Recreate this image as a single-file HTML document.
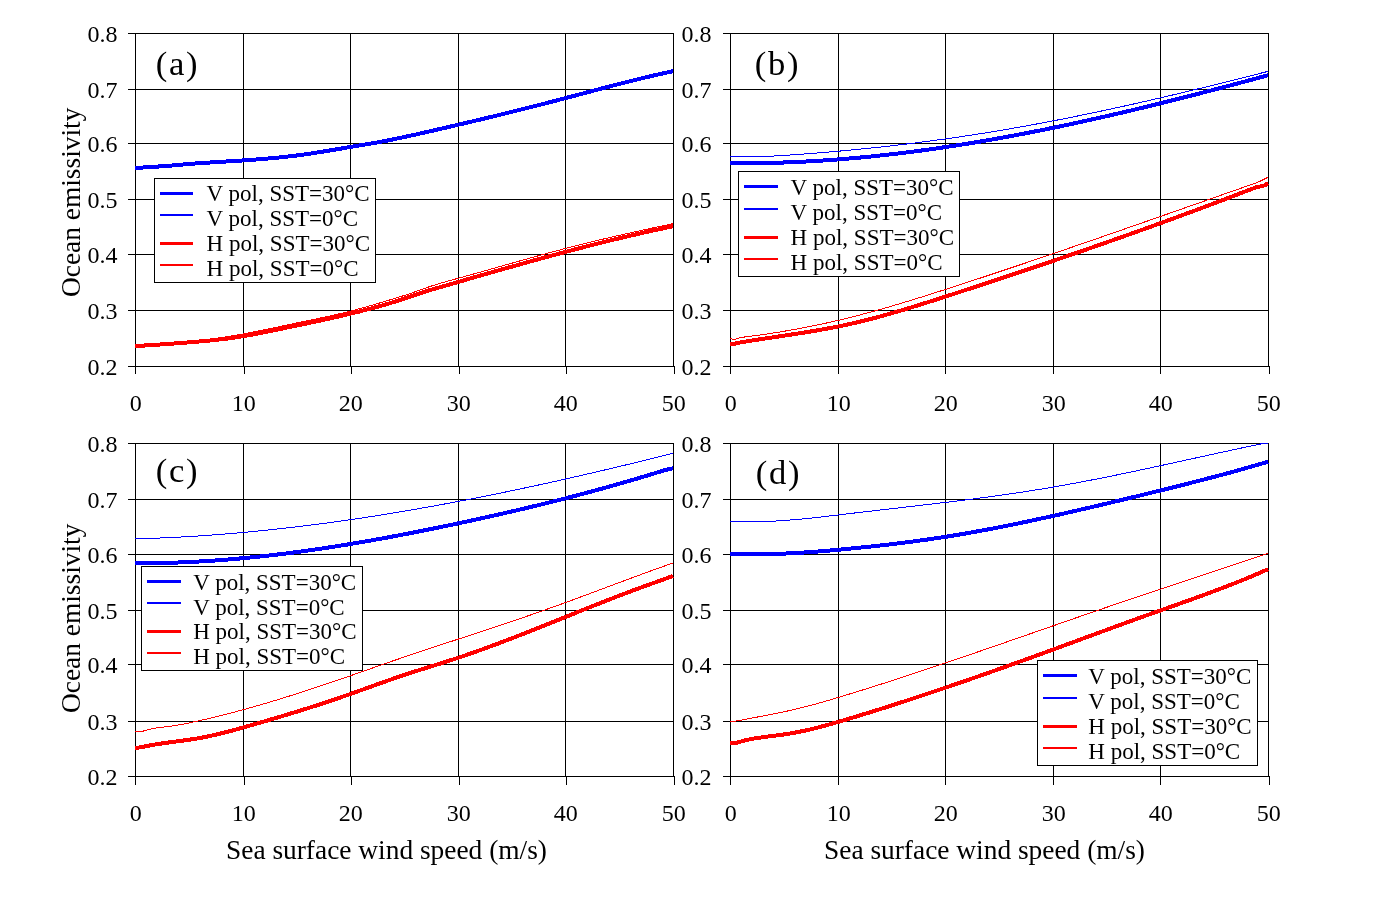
<!DOCTYPE html><html><head><meta charset="utf-8"><style>html,body{margin:0;padding:0;background:#fff;width:1377px;height:921px;overflow:hidden}svg{display:block;will-change:transform}text{font-family:"Liberation Serif",serif;fill:#000}</style></head><body>
<svg width="1377" height="921" viewBox="0 0 1377 921">
<rect x="0" y="0" width="1377" height="921" fill="#fff"/>
<path d="M135 33.5H674M128 33.5H135M135 89.5H674M128 89.5H135M135 143.5H674M128 143.5H135M135 199.5H674M128 199.5H135M135 254.5H674M128 254.5H135M135 310.5H674M128 310.5H135M135 366.5H674M128 366.5H135M135.5 33V367M135.5 366V374M243.5 33V367M244.5 366V374M350.5 33V367M351.5 366V374M458.5 33V367M459.5 366V374M565.5 33V367M566.5 366V374M673.5 33V367M674.5 366V374" stroke="#000" stroke-width="1" fill="none" shape-rendering="crispEdges"/>
<polyline points="135.0,166.32 137.0,166.29 139.0,166.26 141.0,166.22 143.0,166.19 145.0,166.15 147.0,166.11 149.0,166.06 151.0,166.01 153.0,165.96 155.0,165.91 157.0,165.85 159.0,165.79 161.0,165.73 163.0,165.67 165.0,165.60 167.0,165.53 169.0,165.46 171.0,165.39 173.0,165.31 175.0,165.23 177.0,165.14 179.0,165.06 181.0,164.97 183.0,164.87 185.0,164.78 187.0,164.68 189.0,164.58 191.0,164.48 193.0,164.37 195.0,164.26 197.0,164.15 199.0,164.04 201.0,163.92 203.0,163.80 205.0,163.67 207.0,163.55 209.0,163.42 211.0,163.29 213.0,163.15 215.0,163.01 217.0,162.87 219.0,162.73 221.0,162.58 223.0,162.43 225.0,162.28 227.0,162.13 229.0,161.97 231.0,161.81 233.0,161.64 235.0,161.47 237.0,161.30 239.0,161.13 241.0,160.95 243.0,160.78 245.0,160.59 247.0,160.41 249.0,160.22 251.0,160.03 253.0,159.83 255.0,159.64 257.0,159.44 259.0,159.23 261.0,159.03 263.0,158.82 265.0,158.61 267.0,158.39 269.0,158.17 271.0,157.95 273.0,157.73 275.0,157.50 277.0,157.27 279.0,157.03 281.0,156.80 283.0,156.56 285.0,156.31 287.0,156.07 289.0,155.82 291.0,155.57 293.0,155.31 295.0,155.05 297.0,154.79 299.0,154.53 301.0,154.26 303.0,153.99 305.0,153.71 307.0,153.44 309.0,153.15 311.0,152.87 313.0,152.58 315.0,152.29 317.0,152.00 319.0,151.70 321.0,151.40 323.0,151.10 325.0,150.80 327.0,150.49 329.0,150.17 331.0,149.86 333.0,149.54 335.0,149.22 337.0,148.89 339.0,148.56 341.0,148.23 343.0,147.90 345.0,147.56 347.0,147.22 349.0,146.88 351.0,146.54 353.0,146.19 355.0,145.84 357.0,145.48 359.0,145.12 361.0,144.77 363.0,144.40 365.0,144.04 367.0,143.67 369.0,143.30 371.0,142.93 373.0,142.55 375.0,142.17 377.0,141.79 379.0,141.41 381.0,141.02 383.0,140.63 385.0,140.24 387.0,139.84 389.0,139.45 391.0,139.05 393.0,138.65 395.0,138.24 397.0,137.84 399.0,137.43 401.0,137.02 403.0,136.60 405.0,136.19 407.0,135.77 409.0,135.35 411.0,134.93 413.0,134.50 415.0,134.07 417.0,133.65 419.0,133.21 421.0,132.78 423.0,132.34 425.0,131.91 427.0,131.47 429.0,131.03 431.0,130.58 433.0,130.14 435.0,129.69 437.0,129.24 439.0,128.79 441.0,128.33 443.0,127.88 445.0,127.42 447.0,126.96 449.0,126.50 451.0,126.03 453.0,125.57 455.0,125.10 457.0,124.63 459.0,124.16 461.0,123.69 463.0,123.22 465.0,122.74 467.0,122.27 469.0,121.79 471.0,121.31 473.0,120.83 475.0,120.35 477.0,119.86 479.0,119.38 481.0,118.89 483.0,118.40 485.0,117.92 487.0,117.43 489.0,116.93 491.0,116.44 493.0,115.95 495.0,115.45 497.0,114.96 499.0,114.46 501.0,113.96 503.0,113.46 505.0,112.96 507.0,112.46 509.0,111.96 511.0,111.46 513.0,110.95 515.0,110.45 517.0,109.95 519.0,109.44 521.0,108.93 523.0,108.43 525.0,107.92 527.0,107.41 529.0,106.90 531.0,106.39 533.0,105.88 535.0,105.37 537.0,104.86 539.0,104.35 541.0,103.84 543.0,103.33 545.0,102.81 547.0,102.30 549.0,101.79 551.0,101.28 553.0,100.76 555.0,100.25 557.0,99.74 559.0,99.22 561.0,98.71 563.0,98.20 565.0,97.68 567.0,97.17 569.0,96.65 571.0,96.14 573.0,95.63 575.0,95.11 577.0,94.60 579.0,94.09 581.0,93.58 583.0,93.06 585.0,92.55 587.0,92.04 589.0,91.53 591.0,91.02 593.0,90.51 595.0,90.00 597.0,89.49 599.0,88.98 601.0,88.47 603.0,87.96 605.0,87.46 607.0,86.95 609.0,86.44 611.0,85.94 613.0,85.44 615.0,84.93 617.0,84.43 619.0,83.93 621.0,83.43 623.0,82.93 625.0,82.43 627.0,81.93 629.0,81.43 631.0,80.94 633.0,80.44 635.0,79.95 637.0,79.46 639.0,78.96 641.0,78.47 643.0,77.99 645.0,77.50 647.0,77.01 649.0,76.53 651.0,76.04 653.0,75.56 655.0,75.08 657.0,74.60 659.0,74.12 661.0,73.65 663.0,73.17 665.0,72.70 667.0,72.23 669.0,71.76 671.0,71.29 673.0,70.82" fill="none" stroke="#0000ff" stroke-width="1" stroke-linejoin="round" shape-rendering="crispEdges"/>
<polyline points="135.0,345.50 137.0,345.40 139.0,345.29 141.0,345.19 143.0,345.08 145.0,344.97 147.0,344.85 149.0,344.73 151.0,344.61 153.0,344.49 155.0,344.36 157.0,344.23 159.0,344.09 161.0,343.96 163.0,343.81 165.0,343.67 167.0,343.52 169.0,343.36 171.0,343.21 173.0,343.04 175.0,342.88 177.0,342.70 179.0,342.53 181.0,342.35 183.0,342.16 185.0,341.97 187.0,341.78 189.0,341.58 191.0,341.37 193.0,341.16 195.0,340.95 197.0,340.73 199.0,340.50 201.0,340.27 203.0,340.03 205.0,339.79 207.0,339.54 209.0,339.28 211.0,339.02 213.0,338.75 215.0,338.48 217.0,338.20 219.0,337.91 221.0,337.62 223.0,337.32 225.0,337.01 227.0,336.70 229.0,336.38 231.0,336.05 233.0,335.71 235.0,335.37 237.0,335.02 239.0,334.67 241.0,334.31 243.0,333.94 245.0,333.57 247.0,333.20 249.0,332.82 251.0,332.43 253.0,332.04 255.0,331.65 257.0,331.25 259.0,330.85 261.0,330.45 263.0,330.04 265.0,329.63 267.0,329.22 269.0,328.80 271.0,328.39 273.0,327.97 275.0,327.55 277.0,327.13 279.0,326.70 281.0,326.28 283.0,325.85 285.0,325.43 287.0,325.01 289.0,324.58 291.0,324.16 293.0,323.73 295.0,323.31 297.0,322.89 299.0,322.47 301.0,322.05 303.0,321.64 305.0,321.22 307.0,320.81 309.0,320.39 311.0,319.98 313.0,319.56 315.0,319.14 317.0,318.73 319.0,318.31 321.0,317.88 323.0,317.46 325.0,317.03 327.0,316.60 329.0,316.16 331.0,315.72 333.0,315.28 335.0,314.82 337.0,314.37 339.0,313.90 341.0,313.43 343.0,312.96 345.0,312.47 347.0,311.98 349.0,311.48 351.0,310.97 353.0,310.45 355.0,309.93 357.0,309.40 359.0,308.86 361.0,308.32 363.0,307.77 365.0,307.21 367.0,306.65 369.0,306.08 371.0,305.51 373.0,304.93 375.0,304.35 377.0,303.77 379.0,303.18 381.0,302.58 383.0,301.99 385.0,301.38 387.0,300.78 389.0,300.17 391.0,299.56 393.0,298.95 395.0,298.34 397.0,297.72 399.0,297.10 401.0,296.48 403.0,295.86 405.0,295.23 407.0,294.58 409.0,293.92 411.0,293.24 413.0,292.53 415.0,291.82 417.0,291.09 419.0,290.37 421.0,289.65 423.0,288.93 425.0,288.23 427.0,287.54 429.0,286.86 431.0,286.20 433.0,285.54 435.0,284.91 437.0,284.28 439.0,283.67 441.0,283.08 443.0,282.49 445.0,281.92 447.0,281.35 449.0,280.79 451.0,280.23 453.0,279.68 455.0,279.13 457.0,278.59 459.0,278.04 461.0,277.49 463.0,276.94 465.0,276.38 467.0,275.83 469.0,275.27 471.0,274.71 473.0,274.16 475.0,273.60 477.0,273.03 479.0,272.47 481.0,271.91 483.0,271.35 485.0,270.78 487.0,270.22 489.0,269.65 491.0,269.09 493.0,268.52 495.0,267.95 497.0,267.39 499.0,266.82 501.0,266.25 503.0,265.69 505.0,265.12 507.0,264.55 509.0,263.99 511.0,263.42 513.0,262.85 515.0,262.29 517.0,261.72 519.0,261.16 521.0,260.60 523.0,260.04 525.0,259.47 527.0,258.91 529.0,258.36 531.0,257.80 533.0,257.24 535.0,256.69 537.0,256.13 539.0,255.58 541.0,255.03 543.0,254.48 545.0,253.93 547.0,253.39 549.0,252.84 551.0,252.30 553.0,251.76 555.0,251.22 557.0,250.69 559.0,250.16 561.0,249.63 563.0,249.10 565.0,248.57 567.0,248.05 569.0,247.53 571.0,247.01 573.0,246.50 575.0,245.99 577.0,245.48 579.0,244.98 581.0,244.47 583.0,243.97 585.0,243.47 587.0,242.98 589.0,242.49 591.0,242.00 593.0,241.51 595.0,241.03 597.0,240.54 599.0,240.06 601.0,239.59 603.0,239.11 605.0,238.64 607.0,238.17 609.0,237.70 611.0,237.23 613.0,236.77 615.0,236.31 617.0,235.85 619.0,235.39 621.0,234.94 623.0,234.48 625.0,234.03 627.0,233.58 629.0,233.13 631.0,232.69 633.0,232.25 635.0,231.80 637.0,231.36 639.0,230.92 641.0,230.49 643.0,230.05 645.0,229.62 647.0,229.19 649.0,228.76 651.0,228.33 653.0,227.90 655.0,227.47 657.0,227.05 659.0,226.62 661.0,226.20 663.0,225.78 665.0,225.36 667.0,224.94 669.0,224.53 671.0,224.11 673.0,223.70" fill="none" stroke="#ff0000" stroke-width="1" stroke-linejoin="round" shape-rendering="crispEdges"/>
<polyline points="135.0,168.00 137.0,167.87 139.0,167.74 141.0,167.62 143.0,167.49 145.0,167.37 147.0,167.25 149.0,167.13 151.0,167.00 153.0,166.87 155.0,166.75 157.0,166.61 159.0,166.48 161.0,166.34 163.0,166.20 165.0,166.05 167.0,165.89 169.0,165.73 171.0,165.56 173.0,165.39 175.0,165.22 177.0,165.04 179.0,164.86 181.0,164.68 183.0,164.50 185.0,164.33 187.0,164.16 189.0,164.00 191.0,163.84 193.0,163.68 195.0,163.53 197.0,163.38 199.0,163.24 201.0,163.09 203.0,162.96 205.0,162.82 207.0,162.69 209.0,162.56 211.0,162.43 213.0,162.30 215.0,162.17 217.0,162.05 219.0,161.93 221.0,161.80 223.0,161.68 225.0,161.56 227.0,161.44 229.0,161.32 231.0,161.19 233.0,161.07 235.0,160.95 237.0,160.82 239.0,160.69 241.0,160.56 243.0,160.43 245.0,160.30 247.0,160.16 249.0,160.03 251.0,159.88 253.0,159.74 255.0,159.59 257.0,159.44 259.0,159.29 261.0,159.13 263.0,158.96 265.0,158.80 267.0,158.63 269.0,158.45 271.0,158.27 273.0,158.08 275.0,157.89 277.0,157.70 279.0,157.50 281.0,157.29 283.0,157.08 285.0,156.86 287.0,156.64 289.0,156.41 291.0,156.18 293.0,155.93 295.0,155.69 297.0,155.43 299.0,155.17 301.0,154.90 303.0,154.63 305.0,154.34 307.0,154.06 309.0,153.76 311.0,153.46 313.0,153.16 315.0,152.85 317.0,152.54 319.0,152.22 321.0,151.90 323.0,151.57 325.0,151.24 327.0,150.91 329.0,150.58 331.0,150.25 333.0,149.91 335.0,149.58 337.0,149.24 339.0,148.90 341.0,148.56 343.0,148.22 345.0,147.89 347.0,147.55 349.0,147.21 351.0,146.88 353.0,146.55 355.0,146.22 357.0,145.88 359.0,145.55 361.0,145.22 363.0,144.89 365.0,144.55 367.0,144.21 369.0,143.87 371.0,143.53 373.0,143.18 375.0,142.82 377.0,142.46 379.0,142.10 381.0,141.72 383.0,141.35 385.0,140.96 387.0,140.57 389.0,140.18 391.0,139.78 393.0,139.38 395.0,138.97 397.0,138.55 399.0,138.14 401.0,137.72 403.0,137.29 405.0,136.86 407.0,136.43 409.0,136.00 411.0,135.56 413.0,135.12 415.0,134.67 417.0,134.23 419.0,133.78 421.0,133.33 423.0,132.87 425.0,132.42 427.0,131.96 429.0,131.50 431.0,131.05 433.0,130.59 435.0,130.13 437.0,129.66 439.0,129.20 441.0,128.74 443.0,128.28 445.0,127.81 447.0,127.35 449.0,126.88 451.0,126.42 453.0,125.95 455.0,125.49 457.0,125.02 459.0,124.55 461.0,124.08 463.0,123.61 465.0,123.14 467.0,122.67 469.0,122.20 471.0,121.72 473.0,121.25 475.0,120.77 477.0,120.30 479.0,119.82 481.0,119.34 483.0,118.86 485.0,118.38 487.0,117.90 489.0,117.42 491.0,116.94 493.0,116.46 495.0,115.97 497.0,115.49 499.0,115.00 501.0,114.51 503.0,114.02 505.0,113.53 507.0,113.04 509.0,112.55 511.0,112.05 513.0,111.56 515.0,111.06 517.0,110.57 519.0,110.07 521.0,109.57 523.0,109.07 525.0,108.56 527.0,108.06 529.0,107.56 531.0,107.05 533.0,106.54 535.0,106.03 537.0,105.52 539.0,105.01 541.0,104.50 543.0,103.98 545.0,103.47 547.0,102.95 549.0,102.43 551.0,101.91 553.0,101.39 555.0,100.86 557.0,100.34 559.0,99.81 561.0,99.29 563.0,98.76 565.0,98.23 567.0,97.70 569.0,97.17 571.0,96.64 573.0,96.11 575.0,95.58 577.0,95.04 579.0,94.51 581.0,93.98 583.0,93.45 585.0,92.92 587.0,92.38 589.0,91.85 591.0,91.32 593.0,90.79 595.0,90.26 597.0,89.73 599.0,89.21 601.0,88.68 603.0,88.15 605.0,87.63 607.0,87.10 609.0,86.58 611.0,86.06 613.0,85.54 615.0,85.02 617.0,84.51 619.0,83.99 621.0,83.48 623.0,82.97 625.0,82.46 627.0,81.96 629.0,81.46 631.0,80.96 633.0,80.46 635.0,79.96 637.0,79.47 639.0,78.98 641.0,78.49 643.0,78.01 645.0,77.53 647.0,77.05 649.0,76.58 651.0,76.11 653.0,75.64 655.0,75.18 657.0,74.72 659.0,74.26 661.0,73.81 663.0,73.36 665.0,72.92 667.0,72.48 669.0,72.04 671.0,71.61 673.0,71.19" fill="none" stroke="#0000ff" stroke-width="4" stroke-linejoin="round" shape-rendering="crispEdges"/>
<polyline points="135.0,346.04 137.0,345.93 139.0,345.83 141.0,345.71 143.0,345.60 145.0,345.48 147.0,345.36 149.0,345.24 151.0,345.12 153.0,344.99 155.0,344.86 157.0,344.73 159.0,344.59 161.0,344.46 163.0,344.32 165.0,344.17 167.0,344.03 169.0,343.88 171.0,343.74 173.0,343.59 175.0,343.44 177.0,343.28 179.0,343.13 181.0,342.97 183.0,342.82 185.0,342.66 187.0,342.50 189.0,342.34 191.0,342.17 193.0,342.01 195.0,341.84 197.0,341.68 199.0,341.50 201.0,341.33 203.0,341.15 205.0,340.97 207.0,340.79 209.0,340.59 211.0,340.40 213.0,340.19 215.0,339.99 217.0,339.77 219.0,339.55 221.0,339.31 223.0,339.07 225.0,338.83 227.0,338.57 229.0,338.30 231.0,338.02 233.0,337.74 235.0,337.44 237.0,337.14 239.0,336.82 241.0,336.50 243.0,336.17 245.0,335.83 247.0,335.49 249.0,335.13 251.0,334.77 253.0,334.41 255.0,334.04 257.0,333.66 259.0,333.28 261.0,332.89 263.0,332.50 265.0,332.10 267.0,331.70 269.0,331.30 271.0,330.89 273.0,330.48 275.0,330.07 277.0,329.66 279.0,329.24 281.0,328.82 283.0,328.40 285.0,327.98 287.0,327.56 289.0,327.14 291.0,326.72 293.0,326.30 295.0,325.88 297.0,325.46 299.0,325.04 301.0,324.62 303.0,324.20 305.0,323.78 307.0,323.36 309.0,322.94 311.0,322.51 313.0,322.09 315.0,321.66 317.0,321.23 319.0,320.80 321.0,320.37 323.0,319.94 325.0,319.50 327.0,319.06 329.0,318.62 331.0,318.17 333.0,317.73 335.0,317.28 337.0,316.82 339.0,316.36 341.0,315.90 343.0,315.44 345.0,314.97 347.0,314.50 349.0,314.02 351.0,313.54 353.0,313.06 355.0,312.57 357.0,312.08 359.0,311.58 361.0,311.08 363.0,310.57 365.0,310.06 367.0,309.54 369.0,309.02 371.0,308.49 373.0,307.96 375.0,307.42 377.0,306.87 379.0,306.32 381.0,305.76 383.0,305.19 385.0,304.62 387.0,304.04 389.0,303.45 391.0,302.85 393.0,302.25 395.0,301.63 397.0,301.01 399.0,300.37 401.0,299.73 403.0,299.08 405.0,298.42 407.0,297.74 409.0,297.06 411.0,296.36 413.0,295.66 415.0,294.96 417.0,294.26 419.0,293.58 421.0,292.91 423.0,292.27 425.0,291.64 427.0,291.03 429.0,290.43 431.0,289.84 433.0,289.26 435.0,288.68 437.0,288.10 439.0,287.52 441.0,286.94 443.0,286.36 445.0,285.79 447.0,285.21 449.0,284.63 451.0,284.05 453.0,283.47 455.0,282.89 457.0,282.32 459.0,281.74 461.0,281.16 463.0,280.58 465.0,280.00 467.0,279.43 469.0,278.85 471.0,278.28 473.0,277.70 475.0,277.12 477.0,276.55 479.0,275.97 481.0,275.40 483.0,274.83 485.0,274.25 487.0,273.68 489.0,273.11 491.0,272.54 493.0,271.97 495.0,271.40 497.0,270.83 499.0,270.26 501.0,269.69 503.0,269.12 505.0,268.56 507.0,267.99 509.0,267.43 511.0,266.86 513.0,266.30 515.0,265.74 517.0,265.18 519.0,264.62 521.0,264.06 523.0,263.50 525.0,262.94 527.0,262.39 529.0,261.83 531.0,261.28 533.0,260.72 535.0,260.17 537.0,259.62 539.0,259.07 541.0,258.52 543.0,257.98 545.0,257.43 547.0,256.89 549.0,256.34 551.0,255.80 553.0,255.26 555.0,254.72 557.0,254.19 559.0,253.65 561.0,253.12 563.0,252.58 565.0,252.05 567.0,251.52 569.0,250.99 571.0,250.47 573.0,249.94 575.0,249.42 577.0,248.89 579.0,248.37 581.0,247.86 583.0,247.34 585.0,246.82 587.0,246.31 589.0,245.80 591.0,245.29 593.0,244.78 595.0,244.28 597.0,243.77 599.0,243.27 601.0,242.77 603.0,242.27 605.0,241.78 607.0,241.29 609.0,240.79 611.0,240.30 613.0,239.82 615.0,239.33 617.0,238.85 619.0,238.37 621.0,237.89 623.0,237.41 625.0,236.94 627.0,236.47 629.0,236.00 631.0,235.53 633.0,235.06 635.0,234.60 637.0,234.14 639.0,233.69 641.0,233.23 643.0,232.78 645.0,232.33 647.0,231.88 649.0,231.44 651.0,230.99 653.0,230.55 655.0,230.12 657.0,229.68 659.0,229.25 661.0,228.82 663.0,228.40 665.0,227.97 667.0,227.55 669.0,227.13 671.0,226.72 673.0,226.31" fill="none" stroke="#ff0000" stroke-width="4" stroke-linejoin="round" shape-rendering="crispEdges"/>
<text x="117.5" y="42.2" font-size="24" text-anchor="end">0.8</text>
<text x="117.5" y="98.2" font-size="24" text-anchor="end">0.7</text>
<text x="117.5" y="152.2" font-size="24" text-anchor="end">0.6</text>
<text x="117.5" y="208.2" font-size="24" text-anchor="end">0.5</text>
<text x="117.5" y="263.2" font-size="24" text-anchor="end">0.4</text>
<text x="117.5" y="319.2" font-size="24" text-anchor="end">0.3</text>
<text x="117.5" y="375.2" font-size="24" text-anchor="end">0.2</text>
<text x="135.8" y="411.2" font-size="24" text-anchor="middle">0</text>
<text x="243.8" y="411.2" font-size="24" text-anchor="middle">10</text>
<text x="350.8" y="411.2" font-size="24" text-anchor="middle">20</text>
<text x="458.8" y="411.2" font-size="24" text-anchor="middle">30</text>
<text x="565.8" y="411.2" font-size="24" text-anchor="middle">40</text>
<text x="673.8" y="411.2" font-size="24" text-anchor="middle">50</text>
<rect x="154.5" y="178.5" width="221" height="104" fill="#fff" stroke="#000" stroke-width="1" shape-rendering="crispEdges"/>
<path d="M160 193.5H193" stroke="#0000ff" stroke-width="3" shape-rendering="crispEdges"/>
<text x="206.6" y="200.6" font-size="23">V pol, SST=30°C</text>
<path d="M160 215.0H193" stroke="#0000ff" stroke-width="2" shape-rendering="crispEdges"/>
<text x="206.6" y="225.6" font-size="23">V pol, SST=0°C</text>
<path d="M160 243.5H193" stroke="#ff0000" stroke-width="3" shape-rendering="crispEdges"/>
<text x="206.6" y="250.6" font-size="23">H pol, SST=30°C</text>
<path d="M160 265.0H193" stroke="#ff0000" stroke-width="2" shape-rendering="crispEdges"/>
<text x="206.6" y="275.6" font-size="23">H pol, SST=0°C</text>
<text x="155.8" y="75.0" font-size="34.6" letter-spacing="1.7">(a)</text>
<path d="M730 33.5H1269M723 33.5H730M730 89.5H1269M723 89.5H730M730 143.5H1269M723 143.5H730M730 199.5H1269M723 199.5H730M730 254.5H1269M723 254.5H730M730 310.5H1269M723 310.5H730M730 366.5H1269M723 366.5H730M730.5 33V367M730.5 366V374M838.5 33V367M838.5 366V374M945.5 33V367M945.5 366V374M1053.5 33V367M1053.5 366V374M1160.5 33V367M1160.5 366V374M1268.5 33V367M1269.5 366V374" stroke="#000" stroke-width="1" fill="none" shape-rendering="crispEdges"/>
<polyline points="730.0,156.09 732.0,156.26 734.0,156.42 736.0,156.55 738.0,156.66 740.0,156.75 742.0,156.82 744.0,156.87 746.0,156.90 748.0,156.92 750.0,156.92 752.0,156.91 754.0,156.88 756.0,156.83 758.0,156.78 760.0,156.72 762.0,156.64 764.0,156.56 766.0,156.47 768.0,156.37 770.0,156.26 772.0,156.15 774.0,156.03 776.0,155.91 778.0,155.79 780.0,155.67 782.0,155.54 784.0,155.41 786.0,155.28 788.0,155.14 790.0,155.01 792.0,154.87 794.0,154.73 796.0,154.59 798.0,154.45 800.0,154.31 802.0,154.16 804.0,154.02 806.0,153.87 808.0,153.72 810.0,153.56 812.0,153.41 814.0,153.25 816.0,153.09 818.0,152.93 820.0,152.77 822.0,152.61 824.0,152.44 826.0,152.28 828.0,152.11 830.0,151.94 832.0,151.76 834.0,151.59 836.0,151.41 838.0,151.24 840.0,151.06 842.0,150.87 844.0,150.69 846.0,150.50 848.0,150.32 850.0,150.13 852.0,149.94 854.0,149.74 856.0,149.55 858.0,149.35 860.0,149.15 862.0,148.95 864.0,148.75 866.0,148.55 868.0,148.34 870.0,148.13 872.0,147.92 874.0,147.71 876.0,147.50 878.0,147.28 880.0,147.06 882.0,146.85 884.0,146.62 886.0,146.40 888.0,146.18 890.0,145.95 892.0,145.72 894.0,145.49 896.0,145.26 898.0,145.02 900.0,144.79 902.0,144.55 904.0,144.31 906.0,144.07 908.0,143.82 910.0,143.58 912.0,143.33 914.0,143.08 916.0,142.83 918.0,142.57 920.0,142.32 922.0,142.06 924.0,141.80 926.0,141.54 928.0,141.28 930.0,141.01 932.0,140.74 934.0,140.47 936.0,140.20 938.0,139.93 940.0,139.65 942.0,139.38 944.0,139.10 946.0,138.82 948.0,138.53 950.0,138.25 952.0,137.96 954.0,137.67 956.0,137.38 958.0,137.09 960.0,136.79 962.0,136.50 964.0,136.20 966.0,135.90 968.0,135.59 970.0,135.29 972.0,134.98 974.0,134.67 976.0,134.36 978.0,134.05 980.0,133.73 982.0,133.42 984.0,133.10 986.0,132.78 988.0,132.45 990.0,132.13 992.0,131.80 994.0,131.47 996.0,131.14 998.0,130.81 1000.0,130.47 1002.0,130.13 1004.0,129.80 1006.0,129.45 1008.0,129.11 1010.0,128.77 1012.0,128.42 1014.0,128.07 1016.0,127.72 1018.0,127.36 1020.0,127.01 1022.0,126.65 1024.0,126.29 1026.0,125.93 1028.0,125.57 1030.0,125.20 1032.0,124.84 1034.0,124.47 1036.0,124.10 1038.0,123.73 1040.0,123.35 1042.0,122.98 1044.0,122.60 1046.0,122.22 1048.0,121.84 1050.0,121.46 1052.0,121.07 1054.0,120.68 1056.0,120.30 1058.0,119.91 1060.0,119.51 1062.0,119.12 1064.0,118.72 1066.0,118.33 1068.0,117.93 1070.0,117.53 1072.0,117.13 1074.0,116.72 1076.0,116.32 1078.0,115.91 1080.0,115.50 1082.0,115.09 1084.0,114.68 1086.0,114.27 1088.0,113.85 1090.0,113.44 1092.0,113.02 1094.0,112.60 1096.0,112.18 1098.0,111.75 1100.0,111.33 1102.0,110.90 1104.0,110.48 1106.0,110.05 1108.0,109.62 1110.0,109.19 1112.0,108.75 1114.0,108.32 1116.0,107.88 1118.0,107.44 1120.0,107.01 1122.0,106.57 1124.0,106.12 1126.0,105.68 1128.0,105.24 1130.0,104.79 1132.0,104.34 1134.0,103.90 1136.0,103.45 1138.0,102.99 1140.0,102.54 1142.0,102.09 1144.0,101.63 1146.0,101.18 1148.0,100.72 1150.0,100.26 1152.0,99.80 1154.0,99.34 1156.0,98.88 1158.0,98.41 1160.0,97.95 1162.0,97.48 1164.0,97.02 1166.0,96.55 1168.0,96.08 1170.0,95.61 1172.0,95.14 1174.0,94.66 1176.0,94.19 1178.0,93.71 1180.0,93.24 1182.0,92.76 1184.0,92.28 1186.0,91.80 1188.0,91.32 1190.0,90.84 1192.0,90.36 1194.0,89.87 1196.0,89.39 1198.0,88.90 1200.0,88.42 1202.0,87.93 1204.0,87.44 1206.0,86.95 1208.0,86.46 1210.0,85.97 1212.0,85.48 1214.0,84.99 1216.0,84.49 1218.0,84.00 1220.0,83.50 1222.0,83.00 1224.0,82.51 1226.0,82.01 1228.0,81.51 1230.0,81.01 1232.0,80.51 1234.0,80.01 1236.0,79.50 1238.0,79.00 1240.0,78.50 1242.0,77.99 1244.0,77.49 1246.0,76.98 1248.0,76.47 1250.0,75.97 1252.0,75.46 1254.0,74.95 1256.0,74.44 1258.0,73.93 1260.0,73.42 1262.0,72.90 1264.0,72.39 1266.0,71.88 1268.0,71.37" fill="none" stroke="#0000ff" stroke-width="1" stroke-linejoin="round" shape-rendering="crispEdges"/>
<polyline points="730.0,338.38 732.0,339.00 734.0,339.71 736.0,339.16 738.0,338.33 740.0,337.74 742.0,337.35 744.0,337.07 746.0,336.82 748.0,336.57 750.0,336.32 752.0,336.06 754.0,335.79 756.0,335.53 758.0,335.25 760.0,334.98 762.0,334.69 764.0,334.41 766.0,334.11 768.0,333.82 770.0,333.52 772.0,333.21 774.0,332.90 776.0,332.58 778.0,332.26 780.0,331.94 782.0,331.61 784.0,331.27 786.0,330.93 788.0,330.59 790.0,330.24 792.0,329.89 794.0,329.53 796.0,329.16 798.0,328.79 800.0,328.42 802.0,328.04 804.0,327.66 806.0,327.27 808.0,326.88 810.0,326.48 812.0,326.08 814.0,325.67 816.0,325.26 818.0,324.84 820.0,324.41 822.0,323.99 824.0,323.55 826.0,323.12 828.0,322.68 830.0,322.23 832.0,321.78 834.0,321.32 836.0,320.86 838.0,320.39 840.0,319.92 842.0,319.44 844.0,318.96 846.0,318.47 848.0,317.98 850.0,317.48 852.0,316.98 854.0,316.47 856.0,315.96 858.0,315.44 860.0,314.92 862.0,314.39 864.0,313.86 866.0,313.33 868.0,312.79 870.0,312.25 872.0,311.70 874.0,311.15 876.0,310.59 878.0,310.03 880.0,309.47 882.0,308.90 884.0,308.33 886.0,307.75 888.0,307.17 890.0,306.59 892.0,306.01 894.0,305.42 896.0,304.83 898.0,304.23 900.0,303.63 902.0,303.03 904.0,302.43 906.0,301.82 908.0,301.21 910.0,300.60 912.0,299.99 914.0,299.37 916.0,298.75 918.0,298.13 920.0,297.51 922.0,296.88 924.0,296.25 926.0,295.62 928.0,294.99 930.0,294.36 932.0,293.72 934.0,293.09 936.0,292.45 938.0,291.81 940.0,291.17 942.0,290.53 944.0,289.89 946.0,289.24 948.0,288.60 950.0,287.95 952.0,287.30 954.0,286.65 956.0,286.01 958.0,285.36 960.0,284.71 962.0,284.05 964.0,283.40 966.0,282.75 968.0,282.10 970.0,281.44 972.0,280.79 974.0,280.13 976.0,279.47 978.0,278.82 980.0,278.16 982.0,277.50 984.0,276.84 986.0,276.18 988.0,275.52 990.0,274.86 992.0,274.19 994.0,273.53 996.0,272.87 998.0,272.20 1000.0,271.53 1002.0,270.87 1004.0,270.20 1006.0,269.53 1008.0,268.87 1010.0,268.20 1012.0,267.53 1014.0,266.86 1016.0,266.19 1018.0,265.52 1020.0,264.84 1022.0,264.17 1024.0,263.50 1026.0,262.82 1028.0,262.15 1030.0,261.47 1032.0,260.80 1034.0,260.12 1036.0,259.44 1038.0,258.77 1040.0,258.09 1042.0,257.41 1044.0,256.73 1046.0,256.05 1048.0,255.37 1050.0,254.69 1052.0,254.01 1054.0,253.33 1056.0,252.65 1058.0,251.96 1060.0,251.28 1062.0,250.60 1064.0,249.91 1066.0,249.23 1068.0,248.54 1070.0,247.86 1072.0,247.17 1074.0,246.48 1076.0,245.80 1078.0,245.11 1080.0,244.42 1082.0,243.73 1084.0,243.04 1086.0,242.35 1088.0,241.66 1090.0,240.97 1092.0,240.28 1094.0,239.59 1096.0,238.90 1098.0,238.21 1100.0,237.52 1102.0,236.83 1104.0,236.13 1106.0,235.44 1108.0,234.75 1110.0,234.05 1112.0,233.36 1114.0,232.66 1116.0,231.97 1118.0,231.27 1120.0,230.58 1122.0,229.88 1124.0,229.19 1126.0,228.49 1128.0,227.79 1130.0,227.10 1132.0,226.40 1134.0,225.70 1136.0,225.01 1138.0,224.31 1140.0,223.61 1142.0,222.91 1144.0,222.21 1146.0,221.51 1148.0,220.81 1150.0,220.12 1152.0,219.42 1154.0,218.72 1156.0,218.02 1158.0,217.32 1160.0,216.62 1162.0,215.92 1164.0,215.22 1166.0,214.51 1168.0,213.81 1170.0,213.11 1172.0,212.41 1174.0,211.71 1176.0,211.01 1178.0,210.31 1180.0,209.61 1182.0,208.90 1184.0,208.20 1186.0,207.50 1188.0,206.80 1190.0,206.10 1192.0,205.39 1194.0,204.69 1196.0,203.99 1198.0,203.29 1200.0,202.58 1202.0,201.88 1204.0,201.18 1206.0,200.48 1208.0,199.77 1210.0,199.07 1212.0,198.37 1214.0,197.67 1216.0,196.96 1218.0,196.26 1220.0,195.56 1222.0,194.86 1224.0,194.15 1226.0,193.45 1228.0,192.75 1230.0,192.04 1232.0,191.34 1234.0,190.64 1236.0,189.94 1238.0,189.24 1240.0,188.53 1242.0,187.83 1244.0,187.13 1246.0,186.43 1248.0,185.73 1250.0,185.02 1252.0,184.32 1254.0,183.60 1256.0,182.86 1258.0,182.07 1260.0,181.23 1262.0,180.32 1264.0,179.33 1266.0,178.24 1268.0,177.04" fill="none" stroke="#ff0000" stroke-width="1" stroke-linejoin="round" shape-rendering="crispEdges"/>
<polyline points="730.0,163.16 732.0,163.18 734.0,163.20 736.0,163.21 738.0,163.22 740.0,163.23 742.0,163.23 744.0,163.23 746.0,163.22 748.0,163.21 750.0,163.20 752.0,163.19 754.0,163.17 756.0,163.15 758.0,163.12 760.0,163.09 762.0,163.06 764.0,163.03 766.0,162.99 768.0,162.94 770.0,162.90 772.0,162.85 774.0,162.80 776.0,162.74 778.0,162.68 780.0,162.62 782.0,162.56 784.0,162.49 786.0,162.41 788.0,162.34 790.0,162.26 792.0,162.18 794.0,162.09 796.0,162.01 798.0,161.91 800.0,161.82 802.0,161.72 804.0,161.62 806.0,161.52 808.0,161.41 810.0,161.30 812.0,161.19 814.0,161.07 816.0,160.95 818.0,160.83 820.0,160.70 822.0,160.57 824.0,160.44 826.0,160.30 828.0,160.16 830.0,160.02 832.0,159.88 834.0,159.73 836.0,159.58 838.0,159.43 840.0,159.27 842.0,159.11 844.0,158.95 846.0,158.78 848.0,158.62 850.0,158.45 852.0,158.27 854.0,158.09 856.0,157.92 858.0,157.73 860.0,157.55 862.0,157.36 864.0,157.17 866.0,156.97 868.0,156.78 870.0,156.58 872.0,156.37 874.0,156.17 876.0,155.96 878.0,155.75 880.0,155.54 882.0,155.32 884.0,155.10 886.0,154.88 888.0,154.65 890.0,154.43 892.0,154.20 894.0,153.96 896.0,153.73 898.0,153.49 900.0,153.25 902.0,153.01 904.0,152.76 906.0,152.51 908.0,152.26 910.0,152.01 912.0,151.75 914.0,151.49 916.0,151.23 918.0,150.97 920.0,150.70 922.0,150.43 924.0,150.16 926.0,149.89 928.0,149.61 930.0,149.33 932.0,149.05 934.0,148.76 936.0,148.48 938.0,148.19 940.0,147.90 942.0,147.60 944.0,147.31 946.0,147.01 948.0,146.71 950.0,146.40 952.0,146.10 954.0,145.79 956.0,145.48 958.0,145.17 960.0,144.85 962.0,144.53 964.0,144.21 966.0,143.89 968.0,143.57 970.0,143.24 972.0,142.91 974.0,142.58 976.0,142.25 978.0,141.91 980.0,141.57 982.0,141.23 984.0,140.89 986.0,140.55 988.0,140.20 990.0,139.85 992.0,139.50 994.0,139.15 996.0,138.79 998.0,138.43 1000.0,138.07 1002.0,137.71 1004.0,137.35 1006.0,136.98 1008.0,136.61 1010.0,136.24 1012.0,135.87 1014.0,135.50 1016.0,135.12 1018.0,134.74 1020.0,134.36 1022.0,133.98 1024.0,133.60 1026.0,133.21 1028.0,132.82 1030.0,132.43 1032.0,132.04 1034.0,131.65 1036.0,131.25 1038.0,130.86 1040.0,130.46 1042.0,130.05 1044.0,129.65 1046.0,129.25 1048.0,128.84 1050.0,128.43 1052.0,128.02 1054.0,127.61 1056.0,127.19 1058.0,126.78 1060.0,126.36 1062.0,125.94 1064.0,125.52 1066.0,125.10 1068.0,124.67 1070.0,124.24 1072.0,123.82 1074.0,123.39 1076.0,122.95 1078.0,122.52 1080.0,122.08 1082.0,121.65 1084.0,121.21 1086.0,120.77 1088.0,120.33 1090.0,119.88 1092.0,119.44 1094.0,118.99 1096.0,118.54 1098.0,118.10 1100.0,117.64 1102.0,117.19 1104.0,116.74 1106.0,116.28 1108.0,115.82 1110.0,115.36 1112.0,114.90 1114.0,114.44 1116.0,113.98 1118.0,113.51 1120.0,113.05 1122.0,112.58 1124.0,112.11 1126.0,111.64 1128.0,111.17 1130.0,110.69 1132.0,110.22 1134.0,109.74 1136.0,109.26 1138.0,108.79 1140.0,108.30 1142.0,107.82 1144.0,107.34 1146.0,106.86 1148.0,106.37 1150.0,105.88 1152.0,105.39 1154.0,104.90 1156.0,104.41 1158.0,103.92 1160.0,103.43 1162.0,102.93 1164.0,102.44 1166.0,101.94 1168.0,101.44 1170.0,100.94 1172.0,100.44 1174.0,99.94 1176.0,99.44 1178.0,98.93 1180.0,98.43 1182.0,97.92 1184.0,97.42 1186.0,96.91 1188.0,96.40 1190.0,95.89 1192.0,95.37 1194.0,94.86 1196.0,94.35 1198.0,93.83 1200.0,93.32 1202.0,92.80 1204.0,92.28 1206.0,91.76 1208.0,91.24 1210.0,90.72 1212.0,90.20 1214.0,89.68 1216.0,89.15 1218.0,88.63 1220.0,88.10 1222.0,87.58 1224.0,87.05 1226.0,86.52 1228.0,85.99 1230.0,85.46 1232.0,84.93 1234.0,84.40 1236.0,83.87 1238.0,83.33 1240.0,82.80 1242.0,82.26 1244.0,81.73 1246.0,81.19 1248.0,80.65 1250.0,80.12 1252.0,79.58 1254.0,79.04 1256.0,78.50 1258.0,77.96 1260.0,77.41 1262.0,76.87 1264.0,76.33 1266.0,75.78 1268.0,75.24" fill="none" stroke="#0000ff" stroke-width="4" stroke-linejoin="round" shape-rendering="crispEdges"/>
<polyline points="730.0,344.20 732.0,344.17 734.0,343.84 736.0,343.37 738.0,342.89 740.0,342.48 742.0,342.11 744.0,341.78 746.0,341.46 748.0,341.14 750.0,340.83 752.0,340.51 754.0,340.20 756.0,339.89 758.0,339.59 760.0,339.28 762.0,338.98 764.0,338.68 766.0,338.38 768.0,338.08 770.0,337.78 772.0,337.48 774.0,337.18 776.0,336.88 778.0,336.58 780.0,336.28 782.0,335.98 784.0,335.68 786.0,335.37 788.0,335.07 790.0,334.77 792.0,334.46 794.0,334.15 796.0,333.84 798.0,333.53 800.0,333.21 802.0,332.90 804.0,332.58 806.0,332.25 808.0,331.93 810.0,331.60 812.0,331.26 814.0,330.93 816.0,330.58 818.0,330.24 820.0,329.89 822.0,329.53 824.0,329.17 826.0,328.81 828.0,328.44 830.0,328.06 832.0,327.68 834.0,327.29 836.0,326.90 838.0,326.50 840.0,326.10 842.0,325.68 844.0,325.26 846.0,324.84 848.0,324.40 850.0,323.96 852.0,323.51 854.0,323.06 856.0,322.59 858.0,322.12 860.0,321.64 862.0,321.16 864.0,320.67 866.0,320.17 868.0,319.66 870.0,319.15 872.0,318.63 874.0,318.11 876.0,317.58 878.0,317.04 880.0,316.50 882.0,315.95 884.0,315.40 886.0,314.84 888.0,314.28 890.0,313.71 892.0,313.14 894.0,312.56 896.0,311.98 898.0,311.40 900.0,310.81 902.0,310.21 904.0,309.61 906.0,309.01 908.0,308.41 910.0,307.80 912.0,307.18 914.0,306.57 916.0,305.95 918.0,305.33 920.0,304.70 922.0,304.08 924.0,303.45 926.0,302.81 928.0,302.18 930.0,301.54 932.0,300.91 934.0,300.27 936.0,299.62 938.0,298.98 940.0,298.34 942.0,297.69 944.0,297.04 946.0,296.40 948.0,295.75 950.0,295.10 952.0,294.45 954.0,293.80 956.0,293.15 958.0,292.50 960.0,291.84 962.0,291.19 964.0,290.54 966.0,289.89 968.0,289.23 970.0,288.58 972.0,287.92 974.0,287.27 976.0,286.61 978.0,285.96 980.0,285.30 982.0,284.64 984.0,283.98 986.0,283.33 988.0,282.67 990.0,282.01 992.0,281.35 994.0,280.69 996.0,280.02 998.0,279.36 1000.0,278.70 1002.0,278.04 1004.0,277.37 1006.0,276.71 1008.0,276.04 1010.0,275.38 1012.0,274.71 1014.0,274.04 1016.0,273.38 1018.0,272.71 1020.0,272.04 1022.0,271.37 1024.0,270.70 1026.0,270.03 1028.0,269.36 1030.0,268.69 1032.0,268.01 1034.0,267.34 1036.0,266.66 1038.0,265.99 1040.0,265.31 1042.0,264.64 1044.0,263.96 1046.0,263.28 1048.0,262.61 1050.0,261.93 1052.0,261.25 1054.0,260.57 1056.0,259.88 1058.0,259.20 1060.0,258.52 1062.0,257.84 1064.0,257.15 1066.0,256.47 1068.0,255.78 1070.0,255.10 1072.0,254.41 1074.0,253.72 1076.0,253.03 1078.0,252.34 1080.0,251.65 1082.0,250.96 1084.0,250.27 1086.0,249.58 1088.0,248.88 1090.0,248.19 1092.0,247.49 1094.0,246.80 1096.0,246.10 1098.0,245.40 1100.0,244.70 1102.0,244.00 1104.0,243.30 1106.0,242.60 1108.0,241.90 1110.0,241.20 1112.0,240.49 1114.0,239.79 1116.0,239.09 1118.0,238.38 1120.0,237.67 1122.0,236.96 1124.0,236.25 1126.0,235.55 1128.0,234.83 1130.0,234.12 1132.0,233.41 1134.0,232.70 1136.0,231.98 1138.0,231.27 1140.0,230.55 1142.0,229.83 1144.0,229.12 1146.0,228.40 1148.0,227.68 1150.0,226.96 1152.0,226.23 1154.0,225.51 1156.0,224.79 1158.0,224.06 1160.0,223.34 1162.0,222.61 1164.0,221.88 1166.0,221.15 1168.0,220.43 1170.0,219.69 1172.0,218.96 1174.0,218.23 1176.0,217.50 1178.0,216.76 1180.0,216.03 1182.0,215.29 1184.0,214.55 1186.0,213.81 1188.0,213.07 1190.0,212.33 1192.0,211.59 1194.0,210.85 1196.0,210.10 1198.0,209.36 1200.0,208.61 1202.0,207.86 1204.0,207.12 1206.0,206.37 1208.0,205.62 1210.0,204.86 1212.0,204.11 1214.0,203.36 1216.0,202.60 1218.0,201.85 1220.0,201.09 1222.0,200.33 1224.0,199.57 1226.0,198.81 1228.0,198.05 1230.0,197.29 1232.0,196.52 1234.0,195.76 1236.0,194.99 1238.0,194.22 1240.0,193.45 1242.0,192.68 1244.0,191.91 1246.0,191.14 1248.0,190.37 1250.0,189.59 1252.0,188.82 1254.0,188.09 1256.0,187.43 1258.0,186.87 1260.0,186.46 1262.0,186.09 1264.0,185.55 1266.0,184.61 1268.0,183.06" fill="none" stroke="#ff0000" stroke-width="4" stroke-linejoin="round" shape-rendering="crispEdges"/>
<text x="711.5" y="42.2" font-size="24" text-anchor="end">0.8</text>
<text x="711.5" y="98.2" font-size="24" text-anchor="end">0.7</text>
<text x="711.5" y="152.2" font-size="24" text-anchor="end">0.6</text>
<text x="711.5" y="208.2" font-size="24" text-anchor="end">0.5</text>
<text x="711.5" y="263.2" font-size="24" text-anchor="end">0.4</text>
<text x="711.5" y="319.2" font-size="24" text-anchor="end">0.3</text>
<text x="711.5" y="375.2" font-size="24" text-anchor="end">0.2</text>
<text x="730.8" y="411.2" font-size="24" text-anchor="middle">0</text>
<text x="838.8" y="411.2" font-size="24" text-anchor="middle">10</text>
<text x="945.8" y="411.2" font-size="24" text-anchor="middle">20</text>
<text x="1053.8" y="411.2" font-size="24" text-anchor="middle">30</text>
<text x="1160.8" y="411.2" font-size="24" text-anchor="middle">40</text>
<text x="1268.8" y="411.2" font-size="24" text-anchor="middle">50</text>
<rect x="738.5" y="171.5" width="221" height="105" fill="#fff" stroke="#000" stroke-width="1" shape-rendering="crispEdges"/>
<path d="M744 186.5H778" stroke="#0000ff" stroke-width="3" shape-rendering="crispEdges"/>
<text x="790.6" y="194.9" font-size="23">V pol, SST=30°C</text>
<path d="M744 209.0H778" stroke="#0000ff" stroke-width="2" shape-rendering="crispEdges"/>
<text x="790.6" y="219.9" font-size="23">V pol, SST=0°C</text>
<path d="M744 237.5H778" stroke="#ff0000" stroke-width="3" shape-rendering="crispEdges"/>
<text x="790.6" y="244.9" font-size="23">H pol, SST=30°C</text>
<path d="M744 259.0H778" stroke="#ff0000" stroke-width="2" shape-rendering="crispEdges"/>
<text x="790.6" y="269.9" font-size="23">H pol, SST=0°C</text>
<text x="754.8" y="75.0" font-size="34.6" letter-spacing="1.7">(b)</text>
<path d="M135 443.5H674M128 443.5H135M135 499.5H674M128 499.5H135M135 554.5H674M128 554.5H135M135 610.5H674M128 610.5H135M135 664.5H674M128 664.5H135M135 721.5H674M128 721.5H135M135 776.5H674M128 776.5H135M135.5 443V777M135.5 776V785M243.5 443V777M244.5 776V785M350.5 443V777M351.5 776V785M458.5 443V777M459.5 776V785M565.5 443V777M566.5 776V785M673.5 443V777M674.5 776V785" stroke="#000" stroke-width="1" fill="none" shape-rendering="crispEdges"/>
<polyline points="135.0,538.85 137.0,538.80 139.0,538.74 141.0,538.69 143.0,538.63 145.0,538.56 147.0,538.50 149.0,538.43 151.0,538.36 153.0,538.29 155.0,538.21 157.0,538.13 159.0,538.05 161.0,537.97 163.0,537.88 165.0,537.80 167.0,537.70 169.0,537.61 171.0,537.52 173.0,537.42 175.0,537.32 177.0,537.21 179.0,537.11 181.0,537.00 183.0,536.89 185.0,536.78 187.0,536.66 189.0,536.54 191.0,536.42 193.0,536.30 195.0,536.18 197.0,536.05 199.0,535.92 201.0,535.79 203.0,535.65 205.0,535.51 207.0,535.37 209.0,535.23 211.0,535.09 213.0,534.94 215.0,534.79 217.0,534.64 219.0,534.49 221.0,534.33 223.0,534.18 225.0,534.02 227.0,533.85 229.0,533.69 231.0,533.52 233.0,533.35 235.0,533.18 237.0,533.00 239.0,532.83 241.0,532.65 243.0,532.47 245.0,532.29 247.0,532.10 249.0,531.91 251.0,531.72 253.0,531.53 255.0,531.34 257.0,531.14 259.0,530.94 261.0,530.74 263.0,530.54 265.0,530.34 267.0,530.13 269.0,529.92 271.0,529.71 273.0,529.49 275.0,529.28 277.0,529.06 279.0,528.84 281.0,528.62 283.0,528.39 285.0,528.17 287.0,527.94 289.0,527.71 291.0,527.48 293.0,527.24 295.0,527.01 297.0,526.77 299.0,526.53 301.0,526.28 303.0,526.04 305.0,525.79 307.0,525.54 309.0,525.29 311.0,525.04 313.0,524.79 315.0,524.53 317.0,524.27 319.0,524.01 321.0,523.75 323.0,523.48 325.0,523.22 327.0,522.95 329.0,522.68 331.0,522.41 333.0,522.13 335.0,521.85 337.0,521.58 339.0,521.30 341.0,521.01 343.0,520.73 345.0,520.44 347.0,520.16 349.0,519.87 351.0,519.58 353.0,519.28 355.0,518.99 357.0,518.69 359.0,518.39 361.0,518.09 363.0,517.79 365.0,517.49 367.0,517.18 369.0,516.87 371.0,516.56 373.0,516.25 375.0,515.94 377.0,515.62 379.0,515.31 381.0,514.99 383.0,514.67 385.0,514.35 387.0,514.02 389.0,513.70 391.0,513.37 393.0,513.04 395.0,512.71 397.0,512.38 399.0,512.05 401.0,511.71 403.0,511.37 405.0,511.03 407.0,510.69 409.0,510.35 411.0,510.01 413.0,509.66 415.0,509.31 417.0,508.97 419.0,508.62 421.0,508.26 423.0,507.91 425.0,507.55 427.0,507.20 429.0,506.84 431.0,506.48 433.0,506.12 435.0,505.75 437.0,505.39 439.0,505.02 441.0,504.66 443.0,504.29 445.0,503.92 447.0,503.54 449.0,503.17 451.0,502.79 453.0,502.42 455.0,502.04 457.0,501.66 459.0,501.28 461.0,500.89 463.0,500.51 465.0,500.12 467.0,499.74 469.0,499.35 471.0,498.96 473.0,498.57 475.0,498.17 477.0,497.78 479.0,497.38 481.0,496.99 483.0,496.59 485.0,496.19 487.0,495.79 489.0,495.38 491.0,494.98 493.0,494.57 495.0,494.17 497.0,493.76 499.0,493.35 501.0,492.94 503.0,492.53 505.0,492.11 507.0,491.70 509.0,491.28 511.0,490.86 513.0,490.44 515.0,490.02 517.0,489.60 519.0,489.18 521.0,488.76 523.0,488.33 525.0,487.90 527.0,487.48 529.0,487.05 531.0,486.62 533.0,486.19 535.0,485.75 537.0,485.32 539.0,484.89 541.0,484.45 543.0,484.01 545.0,483.57 547.0,483.13 549.0,482.69 551.0,482.25 553.0,481.81 555.0,481.36 557.0,480.92 559.0,480.47 561.0,480.02 563.0,479.57 565.0,479.12 567.0,478.67 569.0,478.22 571.0,477.77 573.0,477.31 575.0,476.86 577.0,476.40 579.0,475.94 581.0,475.49 583.0,475.03 585.0,474.57 587.0,474.10 589.0,473.64 591.0,473.18 593.0,472.71 595.0,472.25 597.0,471.78 599.0,471.31 601.0,470.84 603.0,470.37 605.0,469.90 607.0,469.43 609.0,468.96 611.0,468.48 613.0,468.01 615.0,467.53 617.0,467.06 619.0,466.58 621.0,466.10 623.0,465.62 625.0,465.14 627.0,464.66 629.0,464.18 631.0,463.70 633.0,463.21 635.0,462.73 637.0,462.24 639.0,461.76 641.0,461.27 643.0,460.78 645.0,460.29 647.0,459.81 649.0,459.32 651.0,458.82 653.0,458.33 655.0,457.84 657.0,457.35 659.0,456.85 661.0,456.36 663.0,455.86 665.0,455.36 667.0,454.87 669.0,454.37 671.0,453.87 673.0,453.37" fill="none" stroke="#0000ff" stroke-width="1" stroke-linejoin="round" shape-rendering="crispEdges"/>
<polyline points="135.0,731.38 137.0,731.73 139.0,731.77 141.0,731.55 143.0,731.14 145.0,730.61 147.0,730.02 149.0,729.43 151.0,728.91 153.0,728.47 155.0,728.12 157.0,727.82 159.0,727.56 161.0,727.33 163.0,727.12 165.0,726.90 167.0,726.66 169.0,726.40 171.0,726.12 173.0,725.83 175.0,725.52 177.0,725.19 179.0,724.84 181.0,724.49 183.0,724.12 185.0,723.73 187.0,723.34 189.0,722.93 191.0,722.52 193.0,722.09 195.0,721.66 197.0,721.22 199.0,720.77 201.0,720.32 203.0,719.86 205.0,719.40 207.0,718.94 209.0,718.47 211.0,717.99 213.0,717.51 215.0,717.02 217.0,716.53 219.0,716.04 221.0,715.54 223.0,715.04 225.0,714.53 227.0,714.02 229.0,713.50 231.0,712.98 233.0,712.45 235.0,711.92 237.0,711.39 239.0,710.85 241.0,710.31 243.0,709.76 245.0,709.21 247.0,708.66 249.0,708.10 251.0,707.54 253.0,706.98 255.0,706.41 257.0,705.83 259.0,705.26 261.0,704.68 263.0,704.09 265.0,703.50 267.0,702.91 269.0,702.32 271.0,701.72 273.0,701.12 275.0,700.52 277.0,699.91 279.0,699.30 281.0,698.68 283.0,698.07 285.0,697.44 287.0,696.82 289.0,696.19 291.0,695.56 293.0,694.93 295.0,694.30 297.0,693.66 299.0,693.02 301.0,692.37 303.0,691.73 305.0,691.08 307.0,690.43 309.0,689.77 311.0,689.12 313.0,688.46 315.0,687.80 317.0,687.13 319.0,686.47 321.0,685.80 323.0,685.13 325.0,684.45 327.0,683.78 329.0,683.10 331.0,682.42 333.0,681.74 335.0,681.06 337.0,680.37 339.0,679.69 341.0,679.00 343.0,678.31 345.0,677.61 347.0,676.92 349.0,676.22 351.0,675.53 353.0,674.83 355.0,674.13 357.0,673.43 359.0,672.73 361.0,672.03 363.0,671.33 365.0,670.62 367.0,669.92 369.0,669.22 371.0,668.52 373.0,667.82 375.0,667.12 377.0,666.42 379.0,665.72 381.0,665.02 383.0,664.32 385.0,663.63 387.0,662.93 389.0,662.24 391.0,661.55 393.0,660.86 395.0,660.18 397.0,659.49 399.0,658.81 401.0,658.13 403.0,657.45 405.0,656.77 407.0,656.09 409.0,655.42 411.0,654.74 413.0,654.07 415.0,653.40 417.0,652.73 419.0,652.06 421.0,651.39 423.0,650.73 425.0,650.06 427.0,649.40 429.0,648.74 431.0,648.07 433.0,647.41 435.0,646.75 437.0,646.09 439.0,645.43 441.0,644.77 443.0,644.11 445.0,643.46 447.0,642.80 449.0,642.14 451.0,641.48 453.0,640.83 455.0,640.17 457.0,639.51 459.0,638.86 461.0,638.20 463.0,637.55 465.0,636.89 467.0,636.23 469.0,635.58 471.0,634.92 473.0,634.26 475.0,633.60 477.0,632.95 479.0,632.29 481.0,631.63 483.0,630.97 485.0,630.31 487.0,629.65 489.0,628.99 491.0,628.32 493.0,627.66 495.0,626.99 497.0,626.33 499.0,625.66 501.0,625.00 503.0,624.33 505.0,623.66 507.0,622.99 509.0,622.31 511.0,621.64 513.0,620.96 515.0,620.29 517.0,619.61 519.0,618.93 521.0,618.25 523.0,617.56 525.0,616.88 527.0,616.19 529.0,615.50 531.0,614.81 533.0,614.12 535.0,613.42 537.0,612.73 539.0,612.03 541.0,611.33 543.0,610.62 545.0,609.92 547.0,609.21 549.0,608.50 551.0,607.79 553.0,607.07 555.0,606.35 557.0,605.63 559.0,604.91 561.0,604.18 563.0,603.46 565.0,602.73 567.0,602.00 569.0,601.27 571.0,600.53 573.0,599.80 575.0,599.06 577.0,598.32 579.0,597.58 581.0,596.84 583.0,596.10 585.0,595.36 587.0,594.61 589.0,593.87 591.0,593.12 593.0,592.38 595.0,591.63 597.0,590.88 599.0,590.13 601.0,589.39 603.0,588.64 605.0,587.89 607.0,587.14 609.0,586.39 611.0,585.65 613.0,584.90 615.0,584.15 617.0,583.40 619.0,582.66 621.0,581.91 623.0,581.17 625.0,580.42 627.0,579.68 629.0,578.94 631.0,578.20 633.0,577.46 635.0,576.72 637.0,575.98 639.0,575.24 641.0,574.51 643.0,573.78 645.0,573.05 647.0,572.32 649.0,571.59 651.0,570.86 653.0,570.14 655.0,569.42 657.0,568.70 659.0,567.98 661.0,567.27 663.0,566.56 665.0,565.85 667.0,565.14 669.0,564.44 671.0,563.74 673.0,563.04" fill="none" stroke="#ff0000" stroke-width="1" stroke-linejoin="round" shape-rendering="crispEdges"/>
<polyline points="135.0,563.20 137.0,563.21 139.0,563.21 141.0,563.21 143.0,563.21 145.0,563.20 147.0,563.19 149.0,563.18 151.0,563.16 153.0,563.13 155.0,563.11 157.0,563.07 159.0,563.04 161.0,563.00 163.0,562.96 165.0,562.91 167.0,562.86 169.0,562.80 171.0,562.74 173.0,562.68 175.0,562.61 177.0,562.54 179.0,562.47 181.0,562.39 183.0,562.31 185.0,562.22 187.0,562.13 189.0,562.04 191.0,561.94 193.0,561.84 195.0,561.74 197.0,561.63 199.0,561.52 201.0,561.41 203.0,561.29 205.0,561.17 207.0,561.04 209.0,560.91 211.0,560.78 213.0,560.64 215.0,560.50 217.0,560.36 219.0,560.21 221.0,560.07 223.0,559.91 225.0,559.76 227.0,559.60 229.0,559.43 231.0,559.27 233.0,559.10 235.0,558.92 237.0,558.75 239.0,558.57 241.0,558.38 243.0,558.20 245.0,558.01 247.0,557.82 249.0,557.62 251.0,557.42 253.0,557.22 255.0,557.02 257.0,556.81 259.0,556.60 261.0,556.38 263.0,556.17 265.0,555.95 267.0,555.72 269.0,555.50 271.0,555.27 273.0,555.04 275.0,554.80 277.0,554.56 279.0,554.32 281.0,554.08 283.0,553.83 285.0,553.58 287.0,553.33 289.0,553.08 291.0,552.82 293.0,552.56 295.0,552.30 297.0,552.03 299.0,551.76 301.0,551.49 303.0,551.22 305.0,550.94 307.0,550.66 309.0,550.38 311.0,550.10 313.0,549.81 315.0,549.52 317.0,549.23 319.0,548.94 321.0,548.64 323.0,548.34 325.0,548.04 327.0,547.73 329.0,547.43 331.0,547.12 333.0,546.81 335.0,546.49 337.0,546.18 339.0,545.86 341.0,545.54 343.0,545.22 345.0,544.89 347.0,544.56 349.0,544.23 351.0,543.90 353.0,543.57 355.0,543.23 357.0,542.89 359.0,542.55 361.0,542.21 363.0,541.86 365.0,541.52 367.0,541.17 369.0,540.82 371.0,540.46 373.0,540.11 375.0,539.75 377.0,539.39 379.0,539.03 381.0,538.67 383.0,538.30 385.0,537.94 387.0,537.57 389.0,537.20 391.0,536.82 393.0,536.45 395.0,536.07 397.0,535.70 399.0,535.32 401.0,534.94 403.0,534.55 405.0,534.17 407.0,533.78 409.0,533.39 411.0,533.00 413.0,532.61 415.0,532.22 417.0,531.82 419.0,531.43 421.0,531.03 423.0,530.63 425.0,530.23 427.0,529.82 429.0,529.42 431.0,529.01 433.0,528.61 435.0,528.20 437.0,527.79 439.0,527.38 441.0,526.97 443.0,526.55 445.0,526.14 447.0,525.72 449.0,525.30 451.0,524.88 453.0,524.46 455.0,524.04 457.0,523.61 459.0,523.19 461.0,522.76 463.0,522.34 465.0,521.91 467.0,521.48 469.0,521.05 471.0,520.61 473.0,520.18 475.0,519.74 477.0,519.31 479.0,518.87 481.0,518.43 483.0,517.98 485.0,517.54 487.0,517.10 489.0,516.65 491.0,516.20 493.0,515.75 495.0,515.30 497.0,514.85 499.0,514.40 501.0,513.94 503.0,513.48 505.0,513.03 507.0,512.56 509.0,512.10 511.0,511.64 513.0,511.17 515.0,510.71 517.0,510.24 519.0,509.77 521.0,509.30 523.0,508.82 525.0,508.35 527.0,507.87 529.0,507.39 531.0,506.91 533.0,506.43 535.0,505.94 537.0,505.46 539.0,504.97 541.0,504.48 543.0,503.99 545.0,503.50 547.0,503.00 549.0,502.50 551.0,502.00 553.0,501.50 555.0,501.00 557.0,500.50 559.0,499.99 561.0,499.48 563.0,498.97 565.0,498.46 567.0,497.94 569.0,497.43 571.0,496.91 573.0,496.39 575.0,495.87 577.0,495.34 579.0,494.82 581.0,494.29 583.0,493.76 585.0,493.23 587.0,492.69 589.0,492.15 591.0,491.62 593.0,491.07 595.0,490.53 597.0,489.99 599.0,489.44 601.0,488.89 603.0,488.34 605.0,487.78 607.0,487.23 609.0,486.67 611.0,486.11 613.0,485.54 615.0,484.98 617.0,484.41 619.0,483.84 621.0,483.27 623.0,482.70 625.0,482.12 627.0,481.54 629.0,480.96 631.0,480.38 633.0,479.79 635.0,479.20 637.0,478.61 639.0,478.02 641.0,477.42 643.0,476.82 645.0,476.22 647.0,475.62 649.0,475.02 651.0,474.41 653.0,473.80 655.0,473.18 657.0,472.57 659.0,471.95 661.0,471.33 663.0,470.72 665.0,470.13 667.0,469.59 669.0,469.11 671.0,468.71 673.0,468.41" fill="none" stroke="#0000ff" stroke-width="4" stroke-linejoin="round" shape-rendering="crispEdges"/>
<polyline points="135.0,748.27 137.0,747.92 139.0,747.55 141.0,747.16 143.0,746.77 145.0,746.37 147.0,745.98 149.0,745.59 151.0,745.22 153.0,744.86 155.0,744.52 157.0,744.19 159.0,743.88 161.0,743.57 163.0,743.28 165.0,742.99 167.0,742.71 169.0,742.44 171.0,742.17 173.0,741.90 175.0,741.64 177.0,741.37 179.0,741.11 181.0,740.84 183.0,740.57 185.0,740.30 187.0,740.02 189.0,739.73 191.0,739.43 193.0,739.12 195.0,738.81 197.0,738.48 199.0,738.13 201.0,737.77 203.0,737.40 205.0,737.01 207.0,736.60 209.0,736.18 211.0,735.75 213.0,735.31 215.0,734.85 217.0,734.39 219.0,733.91 221.0,733.42 223.0,732.92 225.0,732.41 227.0,731.90 229.0,731.37 231.0,730.84 233.0,730.31 235.0,729.76 237.0,729.21 239.0,728.66 241.0,728.10 243.0,727.53 245.0,726.97 247.0,726.40 249.0,725.83 251.0,725.25 253.0,724.68 255.0,724.10 257.0,723.52 259.0,722.94 261.0,722.36 263.0,721.78 265.0,721.20 267.0,720.61 269.0,720.02 271.0,719.44 273.0,718.84 275.0,718.25 277.0,717.66 279.0,717.06 281.0,716.46 283.0,715.86 285.0,715.26 287.0,714.65 289.0,714.04 291.0,713.43 293.0,712.82 295.0,712.20 297.0,711.59 299.0,710.97 301.0,710.34 303.0,709.72 305.0,709.09 307.0,708.46 309.0,707.82 311.0,707.19 313.0,706.55 315.0,705.90 317.0,705.26 319.0,704.61 321.0,703.96 323.0,703.30 325.0,702.64 327.0,701.98 329.0,701.32 331.0,700.65 333.0,699.97 335.0,699.30 337.0,698.62 339.0,697.94 341.0,697.25 343.0,696.56 345.0,695.87 347.0,695.17 349.0,694.47 351.0,693.76 353.0,693.05 355.0,692.34 357.0,691.63 359.0,690.92 361.0,690.20 363.0,689.48 365.0,688.76 367.0,688.04 369.0,687.32 371.0,686.61 373.0,685.89 375.0,685.17 377.0,684.45 379.0,683.73 381.0,683.02 383.0,682.31 385.0,681.59 387.0,680.89 389.0,680.18 391.0,679.48 393.0,678.78 395.0,678.08 397.0,677.39 399.0,676.71 401.0,676.02 403.0,675.35 405.0,674.68 407.0,674.01 409.0,673.35 411.0,672.70 413.0,672.05 415.0,671.41 417.0,670.77 419.0,670.14 421.0,669.51 423.0,668.89 425.0,668.26 427.0,667.64 429.0,667.02 431.0,666.40 433.0,665.79 435.0,665.17 437.0,664.55 439.0,663.92 441.0,663.30 443.0,662.67 445.0,662.04 447.0,661.41 449.0,660.77 451.0,660.12 453.0,659.47 455.0,658.82 457.0,658.16 459.0,657.49 461.0,656.82 463.0,656.14 465.0,655.46 467.0,654.77 469.0,654.08 471.0,653.39 473.0,652.69 475.0,651.98 477.0,651.27 479.0,650.56 481.0,649.84 483.0,649.12 485.0,648.39 487.0,647.66 489.0,646.93 491.0,646.19 493.0,645.45 495.0,644.70 497.0,643.95 499.0,643.20 501.0,642.45 503.0,641.69 505.0,640.93 507.0,640.17 509.0,639.40 511.0,638.63 513.0,637.86 515.0,637.08 517.0,636.31 519.0,635.53 521.0,634.75 523.0,633.96 525.0,633.18 527.0,632.39 529.0,631.60 531.0,630.81 533.0,630.01 535.0,629.22 537.0,628.42 539.0,627.63 541.0,626.83 543.0,626.03 545.0,625.23 547.0,624.43 549.0,623.62 551.0,622.82 553.0,622.02 555.0,621.21 557.0,620.41 559.0,619.60 561.0,618.80 563.0,617.99 565.0,617.19 567.0,616.38 569.0,615.58 571.0,614.77 573.0,613.96 575.0,613.16 577.0,612.36 579.0,611.55 581.0,610.75 583.0,609.95 585.0,609.15 587.0,608.35 589.0,607.55 591.0,606.75 593.0,605.95 595.0,605.16 597.0,604.37 599.0,603.57 601.0,602.78 603.0,602.00 605.0,601.21 607.0,600.43 609.0,599.64 611.0,598.86 613.0,598.08 615.0,597.31 617.0,596.54 619.0,595.77 621.0,595.00 623.0,594.23 625.0,593.47 627.0,592.71 629.0,591.96 631.0,591.20 633.0,590.45 635.0,589.71 637.0,588.97 639.0,588.23 641.0,587.49 643.0,586.76 645.0,586.03 647.0,585.31 649.0,584.59 651.0,583.87 653.0,583.16 655.0,582.45 657.0,581.74 659.0,581.03 661.0,580.32 663.0,579.60 665.0,578.88 667.0,578.16 669.0,577.42 671.0,576.68 673.0,575.92" fill="none" stroke="#ff0000" stroke-width="4" stroke-linejoin="round" shape-rendering="crispEdges"/>
<text x="117.5" y="452.2" font-size="24" text-anchor="end">0.8</text>
<text x="117.5" y="508.2" font-size="24" text-anchor="end">0.7</text>
<text x="117.5" y="563.2" font-size="24" text-anchor="end">0.6</text>
<text x="117.5" y="619.2" font-size="24" text-anchor="end">0.5</text>
<text x="117.5" y="673.2" font-size="24" text-anchor="end">0.4</text>
<text x="117.5" y="730.2" font-size="24" text-anchor="end">0.3</text>
<text x="117.5" y="785.2" font-size="24" text-anchor="end">0.2</text>
<text x="135.8" y="821.2" font-size="24" text-anchor="middle">0</text>
<text x="243.8" y="821.2" font-size="24" text-anchor="middle">10</text>
<text x="350.8" y="821.2" font-size="24" text-anchor="middle">20</text>
<text x="458.8" y="821.2" font-size="24" text-anchor="middle">30</text>
<text x="565.8" y="821.2" font-size="24" text-anchor="middle">40</text>
<text x="673.8" y="821.2" font-size="24" text-anchor="middle">50</text>
<rect x="141.5" y="566.5" width="221" height="104" fill="#fff" stroke="#000" stroke-width="1" shape-rendering="crispEdges"/>
<path d="M147 581.5H181" stroke="#0000ff" stroke-width="3" shape-rendering="crispEdges"/>
<text x="193.2" y="589.6" font-size="23">V pol, SST=30°C</text>
<path d="M147 603.0H181" stroke="#0000ff" stroke-width="2" shape-rendering="crispEdges"/>
<text x="193.2" y="614.6" font-size="23">V pol, SST=0°C</text>
<path d="M147 631.5H181" stroke="#ff0000" stroke-width="3" shape-rendering="crispEdges"/>
<text x="193.2" y="639.1" font-size="23">H pol, SST=30°C</text>
<path d="M147 653.0H181" stroke="#ff0000" stroke-width="2" shape-rendering="crispEdges"/>
<text x="193.2" y="663.6" font-size="23">H pol, SST=0°C</text>
<text x="155.8" y="482.0" font-size="34.6" letter-spacing="1.7">(c)</text>
<path d="M730 443.5H1269M723 443.5H730M730 499.5H1269M723 499.5H730M730 554.5H1269M723 554.5H730M730 610.5H1269M723 610.5H730M730 664.5H1269M723 664.5H730M730 721.5H1269M723 721.5H730M730 776.5H1269M723 776.5H730M730.5 443V777M730.5 776V785M838.5 443V777M838.5 776V785M945.5 443V777M945.5 776V785M1053.5 443V777M1053.5 776V785M1160.5 443V777M1160.5 776V785M1268.5 443V777M1269.5 776V785" stroke="#000" stroke-width="1" fill="none" shape-rendering="crispEdges"/>
<polyline points="730.0,520.98 732.0,521.11 734.0,521.22 736.0,521.32 738.0,521.40 740.0,521.48 742.0,521.54 744.0,521.59 746.0,521.63 748.0,521.66 750.0,521.67 752.0,521.68 754.0,521.67 756.0,521.66 758.0,521.63 760.0,521.60 762.0,521.55 764.0,521.50 766.0,521.43 768.0,521.36 770.0,521.28 772.0,521.19 774.0,521.09 776.0,520.99 778.0,520.87 780.0,520.75 782.0,520.62 784.0,520.49 786.0,520.35 788.0,520.20 790.0,520.04 792.0,519.88 794.0,519.71 796.0,519.54 798.0,519.36 800.0,519.17 802.0,518.99 804.0,518.79 806.0,518.59 808.0,518.39 810.0,518.18 812.0,517.97 814.0,517.76 816.0,517.54 818.0,517.32 820.0,517.10 822.0,516.87 824.0,516.64 826.0,516.41 828.0,516.18 830.0,515.94 832.0,515.71 834.0,515.47 836.0,515.23 838.0,514.99 840.0,514.75 842.0,514.51 844.0,514.27 846.0,514.03 848.0,513.79 850.0,513.55 852.0,513.31 854.0,513.07 856.0,512.83 858.0,512.60 860.0,512.36 862.0,512.13 864.0,511.89 866.0,511.66 868.0,511.42 870.0,511.19 872.0,510.96 874.0,510.72 876.0,510.49 878.0,510.26 880.0,510.03 882.0,509.80 884.0,509.57 886.0,509.34 888.0,509.11 890.0,508.88 892.0,508.64 894.0,508.41 896.0,508.18 898.0,507.95 900.0,507.72 902.0,507.49 904.0,507.26 906.0,507.03 908.0,506.80 910.0,506.57 912.0,506.34 914.0,506.10 916.0,505.87 918.0,505.64 920.0,505.41 922.0,505.17 924.0,504.94 926.0,504.70 928.0,504.47 930.0,504.23 932.0,504.00 934.0,503.76 936.0,503.52 938.0,503.28 940.0,503.04 942.0,502.80 944.0,502.56 946.0,502.32 948.0,502.08 950.0,501.83 952.0,501.59 954.0,501.34 956.0,501.09 958.0,500.85 960.0,500.60 962.0,500.35 964.0,500.10 966.0,499.84 968.0,499.59 970.0,499.33 972.0,499.08 974.0,498.82 976.0,498.56 978.0,498.30 980.0,498.03 982.0,497.77 984.0,497.50 986.0,497.24 988.0,496.97 990.0,496.70 992.0,496.42 994.0,496.15 996.0,495.87 998.0,495.60 1000.0,495.32 1002.0,495.03 1004.0,494.75 1006.0,494.46 1008.0,494.18 1010.0,493.89 1012.0,493.60 1014.0,493.30 1016.0,493.01 1018.0,492.71 1020.0,492.41 1022.0,492.10 1024.0,491.80 1026.0,491.49 1028.0,491.18 1030.0,490.87 1032.0,490.56 1034.0,490.24 1036.0,489.92 1038.0,489.60 1040.0,489.27 1042.0,488.94 1044.0,488.61 1046.0,488.28 1048.0,487.95 1050.0,487.61 1052.0,487.27 1054.0,486.92 1056.0,486.58 1058.0,486.23 1060.0,485.88 1062.0,485.52 1064.0,485.16 1066.0,484.80 1068.0,484.44 1070.0,484.08 1072.0,483.71 1074.0,483.34 1076.0,482.97 1078.0,482.60 1080.0,482.22 1082.0,481.84 1084.0,481.46 1086.0,481.08 1088.0,480.69 1090.0,480.31 1092.0,479.92 1094.0,479.53 1096.0,479.14 1098.0,478.74 1100.0,478.34 1102.0,477.95 1104.0,477.55 1106.0,477.14 1108.0,476.74 1110.0,476.34 1112.0,475.93 1114.0,475.52 1116.0,475.11 1118.0,474.70 1120.0,474.29 1122.0,473.87 1124.0,473.46 1126.0,473.04 1128.0,472.62 1130.0,472.20 1132.0,471.78 1134.0,471.36 1136.0,470.94 1138.0,470.51 1140.0,470.09 1142.0,469.66 1144.0,469.23 1146.0,468.80 1148.0,468.37 1150.0,467.94 1152.0,467.51 1154.0,467.08 1156.0,466.65 1158.0,466.22 1160.0,465.78 1162.0,465.35 1164.0,464.91 1166.0,464.48 1168.0,464.04 1170.0,463.60 1172.0,463.17 1174.0,462.73 1176.0,462.29 1178.0,461.85 1180.0,461.42 1182.0,460.98 1184.0,460.54 1186.0,460.10 1188.0,459.66 1190.0,459.22 1192.0,458.78 1194.0,458.34 1196.0,457.90 1198.0,457.46 1200.0,457.03 1202.0,456.59 1204.0,456.15 1206.0,455.71 1208.0,455.27 1210.0,454.83 1212.0,454.40 1214.0,453.96 1216.0,453.52 1218.0,453.09 1220.0,452.65 1222.0,452.22 1224.0,451.78 1226.0,451.35 1228.0,450.92 1230.0,450.48 1232.0,450.05 1234.0,449.62 1236.0,449.19 1238.0,448.76 1240.0,448.33 1242.0,447.91 1244.0,447.48 1246.0,447.05 1248.0,446.63 1250.0,446.21 1252.0,445.78 1254.0,445.36 1256.0,444.94 1258.0,444.53 1260.0,444.11 1262.0,443.70 1264.0,443.50 1266.0,443.50 1268.0,443.50" fill="none" stroke="#0000ff" stroke-width="1" stroke-linejoin="round" shape-rendering="crispEdges"/>
<polyline points="730.0,721.57 732.0,721.43 734.0,721.23 736.0,720.97 738.0,720.66 740.0,720.32 742.0,719.95 744.0,719.57 746.0,719.18 748.0,718.80 750.0,718.42 752.0,718.04 754.0,717.67 756.0,717.29 758.0,716.92 760.0,716.54 762.0,716.16 764.0,715.78 766.0,715.40 768.0,715.01 770.0,714.63 772.0,714.24 774.0,713.84 776.0,713.44 778.0,713.03 780.0,712.62 782.0,712.20 784.0,711.78 786.0,711.35 788.0,710.91 790.0,710.46 792.0,710.00 794.0,709.53 796.0,709.06 798.0,708.57 800.0,708.08 802.0,707.58 804.0,707.08 806.0,706.56 808.0,706.04 810.0,705.51 812.0,704.98 814.0,704.43 816.0,703.89 818.0,703.33 820.0,702.77 822.0,702.21 824.0,701.64 826.0,701.06 828.0,700.49 830.0,699.90 832.0,699.31 834.0,698.72 836.0,698.13 838.0,697.53 840.0,696.93 842.0,696.32 844.0,695.71 846.0,695.10 848.0,694.49 850.0,693.88 852.0,693.26 854.0,692.65 856.0,692.03 858.0,691.41 860.0,690.78 862.0,690.16 864.0,689.53 866.0,688.91 868.0,688.28 870.0,687.65 872.0,687.02 874.0,686.38 876.0,685.75 878.0,685.11 880.0,684.48 882.0,683.84 884.0,683.20 886.0,682.56 888.0,681.91 890.0,681.27 892.0,680.62 894.0,679.98 896.0,679.33 898.0,678.68 900.0,678.03 902.0,677.38 904.0,676.72 906.0,676.07 908.0,675.41 910.0,674.76 912.0,674.10 914.0,673.44 916.0,672.78 918.0,672.12 920.0,671.45 922.0,670.79 924.0,670.13 926.0,669.46 928.0,668.79 930.0,668.13 932.0,667.46 934.0,666.79 936.0,666.12 938.0,665.45 940.0,664.77 942.0,664.10 944.0,663.43 946.0,662.75 948.0,662.07 950.0,661.40 952.0,660.72 954.0,660.04 956.0,659.36 958.0,658.68 960.0,658.00 962.0,657.32 964.0,656.64 966.0,655.96 968.0,655.27 970.0,654.59 972.0,653.90 974.0,653.22 976.0,652.53 978.0,651.85 980.0,651.16 982.0,650.47 984.0,649.78 986.0,649.10 988.0,648.41 990.0,647.72 992.0,647.03 994.0,646.34 996.0,645.65 998.0,644.96 1000.0,644.26 1002.0,643.57 1004.0,642.88 1006.0,642.19 1008.0,641.49 1010.0,640.80 1012.0,640.11 1014.0,639.41 1016.0,638.72 1018.0,638.02 1020.0,637.33 1022.0,636.63 1024.0,635.94 1026.0,635.24 1028.0,634.55 1030.0,633.85 1032.0,633.16 1034.0,632.46 1036.0,631.77 1038.0,631.07 1040.0,630.37 1042.0,629.68 1044.0,628.98 1046.0,628.29 1048.0,627.59 1050.0,626.90 1052.0,626.20 1054.0,625.50 1056.0,624.81 1058.0,624.11 1060.0,623.42 1062.0,622.72 1064.0,622.03 1066.0,621.33 1068.0,620.64 1070.0,619.94 1072.0,619.25 1074.0,618.56 1076.0,617.86 1078.0,617.17 1080.0,616.48 1082.0,615.78 1084.0,615.09 1086.0,614.40 1088.0,613.71 1090.0,613.02 1092.0,612.33 1094.0,611.64 1096.0,610.95 1098.0,610.26 1100.0,609.57 1102.0,608.88 1104.0,608.19 1106.0,607.50 1108.0,606.82 1110.0,606.13 1112.0,605.45 1114.0,604.76 1116.0,604.08 1118.0,603.39 1120.0,602.71 1122.0,602.03 1124.0,601.35 1126.0,600.66 1128.0,599.98 1130.0,599.30 1132.0,598.63 1134.0,597.95 1136.0,597.27 1138.0,596.59 1140.0,595.92 1142.0,595.24 1144.0,594.57 1146.0,593.90 1148.0,593.22 1150.0,592.55 1152.0,591.88 1154.0,591.21 1156.0,590.55 1158.0,589.88 1160.0,589.21 1162.0,588.54 1164.0,587.88 1166.0,587.21 1168.0,586.55 1170.0,585.89 1172.0,585.22 1174.0,584.56 1176.0,583.90 1178.0,583.24 1180.0,582.58 1182.0,581.92 1184.0,581.26 1186.0,580.60 1188.0,579.94 1190.0,579.28 1192.0,578.62 1194.0,577.96 1196.0,577.30 1198.0,576.64 1200.0,575.99 1202.0,575.33 1204.0,574.67 1206.0,574.01 1208.0,573.35 1210.0,572.70 1212.0,572.04 1214.0,571.38 1216.0,570.72 1218.0,570.06 1220.0,569.40 1222.0,568.74 1224.0,568.08 1226.0,567.42 1228.0,566.76 1230.0,566.10 1232.0,565.44 1234.0,564.78 1236.0,564.11 1238.0,563.45 1240.0,562.79 1242.0,562.12 1244.0,561.46 1246.0,560.79 1248.0,560.12 1250.0,559.46 1252.0,558.79 1254.0,558.12 1256.0,557.45 1258.0,556.78 1260.0,556.11 1262.0,555.43 1264.0,554.76 1266.0,554.08 1268.0,553.41" fill="none" stroke="#ff0000" stroke-width="1" stroke-linejoin="round" shape-rendering="crispEdges"/>
<polyline points="730.0,553.87 732.0,553.95 734.0,554.02 736.0,554.09 738.0,554.15 740.0,554.20 742.0,554.24 744.0,554.28 746.0,554.31 748.0,554.33 750.0,554.34 752.0,554.35 754.0,554.35 756.0,554.34 758.0,554.33 760.0,554.31 762.0,554.29 764.0,554.26 766.0,554.22 768.0,554.17 770.0,554.12 772.0,554.07 774.0,554.01 776.0,553.94 778.0,553.87 780.0,553.79 782.0,553.71 784.0,553.62 786.0,553.53 788.0,553.43 790.0,553.33 792.0,553.22 794.0,553.11 796.0,553.00 798.0,552.88 800.0,552.76 802.0,552.63 804.0,552.50 806.0,552.36 808.0,552.22 810.0,552.08 812.0,551.93 814.0,551.78 816.0,551.63 818.0,551.48 820.0,551.32 822.0,551.15 824.0,550.99 826.0,550.82 828.0,550.65 830.0,550.48 832.0,550.30 834.0,550.12 836.0,549.94 838.0,549.76 840.0,549.57 842.0,549.39 844.0,549.20 846.0,549.01 848.0,548.81 850.0,548.62 852.0,548.42 854.0,548.23 856.0,548.03 858.0,547.83 860.0,547.63 862.0,547.42 864.0,547.22 866.0,547.01 868.0,546.80 870.0,546.59 872.0,546.37 874.0,546.16 876.0,545.94 878.0,545.72 880.0,545.50 882.0,545.28 884.0,545.05 886.0,544.82 888.0,544.59 890.0,544.36 892.0,544.12 894.0,543.89 896.0,543.65 898.0,543.40 900.0,543.16 902.0,542.91 904.0,542.66 906.0,542.41 908.0,542.15 910.0,541.89 912.0,541.63 914.0,541.37 916.0,541.10 918.0,540.83 920.0,540.56 922.0,540.28 924.0,540.00 926.0,539.72 928.0,539.44 930.0,539.15 932.0,538.86 934.0,538.56 936.0,538.26 938.0,537.96 940.0,537.66 942.0,537.35 944.0,537.04 946.0,536.72 948.0,536.41 950.0,536.08 952.0,535.76 954.0,535.43 956.0,535.10 958.0,534.77 960.0,534.43 962.0,534.09 964.0,533.75 966.0,533.40 968.0,533.05 970.0,532.70 972.0,532.34 974.0,531.99 976.0,531.62 978.0,531.26 980.0,530.89 982.0,530.53 984.0,530.15 986.0,529.78 988.0,529.40 990.0,529.02 992.0,528.64 994.0,528.26 996.0,527.87 998.0,527.48 1000.0,527.09 1002.0,526.69 1004.0,526.30 1006.0,525.90 1008.0,525.49 1010.0,525.09 1012.0,524.68 1014.0,524.28 1016.0,523.87 1018.0,523.45 1020.0,523.04 1022.0,522.62 1024.0,522.20 1026.0,521.78 1028.0,521.36 1030.0,520.94 1032.0,520.51 1034.0,520.08 1036.0,519.65 1038.0,519.22 1040.0,518.79 1042.0,518.35 1044.0,517.92 1046.0,517.48 1048.0,517.04 1050.0,516.60 1052.0,516.15 1054.0,515.71 1056.0,515.26 1058.0,514.82 1060.0,514.37 1062.0,513.92 1064.0,513.47 1066.0,513.01 1068.0,512.56 1070.0,512.10 1072.0,511.65 1074.0,511.19 1076.0,510.73 1078.0,510.27 1080.0,509.80 1082.0,509.34 1084.0,508.88 1086.0,508.41 1088.0,507.94 1090.0,507.48 1092.0,507.01 1094.0,506.54 1096.0,506.07 1098.0,505.60 1100.0,505.12 1102.0,504.65 1104.0,504.17 1106.0,503.70 1108.0,503.22 1110.0,502.74 1112.0,502.27 1114.0,501.79 1116.0,501.31 1118.0,500.83 1120.0,500.34 1122.0,499.86 1124.0,499.38 1126.0,498.89 1128.0,498.41 1130.0,497.92 1132.0,497.44 1134.0,496.95 1136.0,496.47 1138.0,495.98 1140.0,495.49 1142.0,495.00 1144.0,494.51 1146.0,494.02 1148.0,493.53 1150.0,493.04 1152.0,492.55 1154.0,492.06 1156.0,491.57 1158.0,491.08 1160.0,490.58 1162.0,490.09 1164.0,489.59 1166.0,489.10 1168.0,488.60 1170.0,488.11 1172.0,487.61 1174.0,487.11 1176.0,486.61 1178.0,486.11 1180.0,485.61 1182.0,485.11 1184.0,484.60 1186.0,484.10 1188.0,483.59 1190.0,483.08 1192.0,482.57 1194.0,482.06 1196.0,481.55 1198.0,481.04 1200.0,480.52 1202.0,480.00 1204.0,479.48 1206.0,478.96 1208.0,478.44 1210.0,477.92 1212.0,477.39 1214.0,476.86 1216.0,476.33 1218.0,475.80 1220.0,475.27 1222.0,474.73 1224.0,474.20 1226.0,473.65 1228.0,473.11 1230.0,472.57 1232.0,472.02 1234.0,471.47 1236.0,470.92 1238.0,470.36 1240.0,469.81 1242.0,469.25 1244.0,468.68 1246.0,468.12 1248.0,467.55 1250.0,466.98 1252.0,466.41 1254.0,465.83 1256.0,465.25 1258.0,464.67 1260.0,464.08 1262.0,463.49 1264.0,462.90 1266.0,462.31 1268.0,461.71" fill="none" stroke="#0000ff" stroke-width="4" stroke-linejoin="round" shape-rendering="crispEdges"/>
<polyline points="730.0,743.12 732.0,743.23 734.0,743.12 736.0,742.82 738.0,742.39 740.0,741.86 742.0,741.29 744.0,740.71 746.0,740.17 748.0,739.68 750.0,739.25 752.0,738.86 754.0,738.51 756.0,738.19 758.0,737.89 760.0,737.61 762.0,737.33 764.0,737.07 766.0,736.81 768.0,736.55 770.0,736.29 772.0,736.04 774.0,735.78 776.0,735.53 778.0,735.26 780.0,734.99 782.0,734.72 784.0,734.43 786.0,734.13 788.0,733.82 790.0,733.50 792.0,733.16 794.0,732.80 796.0,732.43 798.0,732.04 800.0,731.64 802.0,731.23 804.0,730.80 806.0,730.36 808.0,729.91 810.0,729.45 812.0,728.97 814.0,728.48 816.0,727.99 818.0,727.48 820.0,726.96 822.0,726.44 824.0,725.90 826.0,725.36 828.0,724.81 830.0,724.26 832.0,723.69 834.0,723.12 836.0,722.55 838.0,721.97 840.0,721.38 842.0,720.79 844.0,720.20 846.0,719.60 848.0,719.00 850.0,718.40 852.0,717.80 854.0,717.19 856.0,716.58 858.0,715.97 860.0,715.36 862.0,714.75 864.0,714.13 866.0,713.52 868.0,712.90 870.0,712.28 872.0,711.66 874.0,711.03 876.0,710.41 878.0,709.78 880.0,709.15 882.0,708.52 884.0,707.89 886.0,707.25 888.0,706.62 890.0,705.98 892.0,705.34 894.0,704.70 896.0,704.05 898.0,703.41 900.0,702.76 902.0,702.12 904.0,701.47 906.0,700.82 908.0,700.17 910.0,699.51 912.0,698.86 914.0,698.20 916.0,697.54 918.0,696.88 920.0,696.22 922.0,695.56 924.0,694.89 926.0,694.23 928.0,693.56 930.0,692.89 932.0,692.22 934.0,691.55 936.0,690.88 938.0,690.21 940.0,689.53 942.0,688.85 944.0,688.18 946.0,687.50 948.0,686.82 950.0,686.13 952.0,685.45 954.0,684.77 956.0,684.08 958.0,683.39 960.0,682.70 962.0,682.02 964.0,681.32 966.0,680.63 968.0,679.94 970.0,679.25 972.0,678.55 974.0,677.85 976.0,677.16 978.0,676.46 980.0,675.76 982.0,675.06 984.0,674.36 986.0,673.65 988.0,672.95 990.0,672.24 992.0,671.54 994.0,670.83 996.0,670.12 998.0,669.41 1000.0,668.70 1002.0,667.99 1004.0,667.28 1006.0,666.57 1008.0,665.85 1010.0,665.14 1012.0,664.42 1014.0,663.71 1016.0,662.99 1018.0,662.27 1020.0,661.55 1022.0,660.83 1024.0,660.11 1026.0,659.39 1028.0,658.67 1030.0,657.94 1032.0,657.22 1034.0,656.49 1036.0,655.77 1038.0,655.04 1040.0,654.31 1042.0,653.59 1044.0,652.86 1046.0,652.13 1048.0,651.40 1050.0,650.67 1052.0,649.94 1054.0,649.21 1056.0,648.47 1058.0,647.74 1060.0,647.01 1062.0,646.27 1064.0,645.54 1066.0,644.80 1068.0,644.07 1070.0,643.33 1072.0,642.60 1074.0,641.86 1076.0,641.13 1078.0,640.39 1080.0,639.66 1082.0,638.92 1084.0,638.18 1086.0,637.45 1088.0,636.71 1090.0,635.98 1092.0,635.24 1094.0,634.50 1096.0,633.77 1098.0,633.03 1100.0,632.30 1102.0,631.56 1104.0,630.83 1106.0,630.10 1108.0,629.36 1110.0,628.63 1112.0,627.90 1114.0,627.17 1116.0,626.44 1118.0,625.71 1120.0,624.98 1122.0,624.25 1124.0,623.52 1126.0,622.79 1128.0,622.07 1130.0,621.34 1132.0,620.62 1134.0,619.89 1136.0,619.17 1138.0,618.45 1140.0,617.73 1142.0,617.01 1144.0,616.29 1146.0,615.57 1148.0,614.86 1150.0,614.15 1152.0,613.43 1154.0,612.72 1156.0,612.01 1158.0,611.30 1160.0,610.59 1162.0,609.88 1164.0,609.18 1166.0,608.47 1168.0,607.76 1170.0,607.05 1172.0,606.35 1174.0,605.64 1176.0,604.93 1178.0,604.22 1180.0,603.51 1182.0,602.80 1184.0,602.09 1186.0,601.37 1188.0,600.66 1190.0,599.94 1192.0,599.23 1194.0,598.51 1196.0,597.78 1198.0,597.06 1200.0,596.33 1202.0,595.61 1204.0,594.88 1206.0,594.14 1208.0,593.40 1210.0,592.66 1212.0,591.92 1214.0,591.18 1216.0,590.43 1218.0,589.67 1220.0,588.91 1222.0,588.15 1224.0,587.39 1226.0,586.62 1228.0,585.84 1230.0,585.07 1232.0,584.28 1234.0,583.49 1236.0,582.70 1238.0,581.90 1240.0,581.10 1242.0,580.29 1244.0,579.47 1246.0,578.65 1248.0,577.83 1250.0,576.99 1252.0,576.15 1254.0,575.31 1256.0,574.46 1258.0,573.60 1260.0,572.73 1262.0,571.86 1264.0,570.98 1266.0,570.09 1268.0,569.20" fill="none" stroke="#ff0000" stroke-width="4" stroke-linejoin="round" shape-rendering="crispEdges"/>
<text x="711.5" y="452.2" font-size="24" text-anchor="end">0.8</text>
<text x="711.5" y="508.2" font-size="24" text-anchor="end">0.7</text>
<text x="711.5" y="563.2" font-size="24" text-anchor="end">0.6</text>
<text x="711.5" y="619.2" font-size="24" text-anchor="end">0.5</text>
<text x="711.5" y="673.2" font-size="24" text-anchor="end">0.4</text>
<text x="711.5" y="730.2" font-size="24" text-anchor="end">0.3</text>
<text x="711.5" y="785.2" font-size="24" text-anchor="end">0.2</text>
<text x="730.8" y="821.2" font-size="24" text-anchor="middle">0</text>
<text x="838.8" y="821.2" font-size="24" text-anchor="middle">10</text>
<text x="945.8" y="821.2" font-size="24" text-anchor="middle">20</text>
<text x="1053.8" y="821.2" font-size="24" text-anchor="middle">30</text>
<text x="1160.8" y="821.2" font-size="24" text-anchor="middle">40</text>
<text x="1268.8" y="821.2" font-size="24" text-anchor="middle">50</text>
<rect x="1037.5" y="660.5" width="220" height="105" fill="#fff" stroke="#000" stroke-width="1" shape-rendering="crispEdges"/>
<path d="M1043 675.5H1077" stroke="#0000ff" stroke-width="3" shape-rendering="crispEdges"/>
<text x="1088.3" y="683.6" font-size="23">V pol, SST=30°C</text>
<path d="M1043 698.0H1077" stroke="#0000ff" stroke-width="2" shape-rendering="crispEdges"/>
<text x="1088.3" y="708.6" font-size="23">V pol, SST=0°C</text>
<path d="M1043 726.5H1077" stroke="#ff0000" stroke-width="3" shape-rendering="crispEdges"/>
<text x="1088.3" y="733.6" font-size="23">H pol, SST=30°C</text>
<path d="M1043 748.0H1077" stroke="#ff0000" stroke-width="2" shape-rendering="crispEdges"/>
<text x="1088.3" y="758.6" font-size="23">H pol, SST=0°C</text>
<text x="755.8" y="484.0" font-size="34.6" letter-spacing="1.7">(d)</text>
<text font-size="27.4" transform="translate(79.7 297) rotate(-90)">Ocean emissivity</text>
<text font-size="27.4" transform="translate(79.7 713) rotate(-90)">Ocean emissivity</text>
<text x="226" y="859.3" font-size="27.4">Sea surface wind speed (m/s)</text>
<text x="824" y="859.3" font-size="27.4">Sea surface wind speed (m/s)</text>
</svg></body></html>
